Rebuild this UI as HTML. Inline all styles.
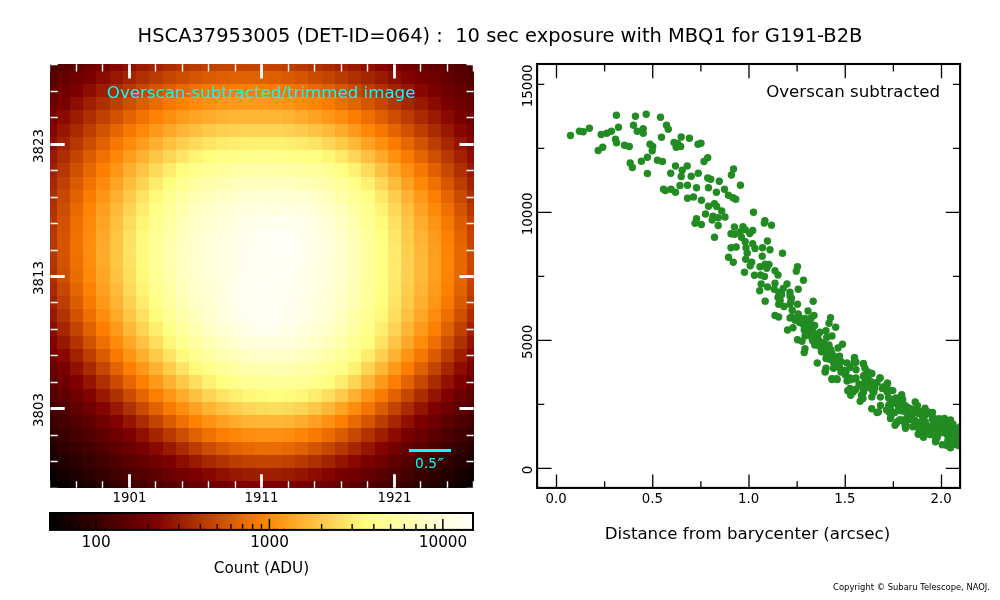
<!DOCTYPE html>
<html><head><meta charset="utf-8"><title>HSCA37953005</title>
<style>html,body{margin:0;padding:0;background:#fff}svg{display:block;will-change:transform}text{font-family:"DejaVu Sans","Liberation Sans",sans-serif;fill:#000}</style></head><body>
<svg width="1000" height="600" viewBox="0 0 1000 600">
<rect width="1000" height="600" fill="#fff"/>
<text x="500" y="42" font-size="19.44" text-anchor="middle" xml:space="preserve">HSCA37953005 (DET-ID=064) :  10 sec exposure with MBQ1 for G191-B2B</text>
<g shape-rendering="crispEdges">
<rect x="50" y="481" width="7" height="7" fill="#000000"/>
<rect x="57" y="481" width="13" height="7" fill="#090000"/>
<rect x="70" y="481" width="13" height="7" fill="#130000"/>
<rect x="83" y="481" width="13" height="7" fill="#1d0000"/>
<rect x="96" y="481" width="14" height="7" fill="#270000"/>
<rect x="110" y="481" width="13" height="7" fill="#320000"/>
<rect x="123" y="481" width="13" height="7" fill="#3c0000"/>
<rect x="136" y="481" width="13" height="7" fill="#450000"/>
<rect x="149" y="481" width="14" height="7" fill="#4f0000"/>
<rect x="163" y="481" width="13" height="7" fill="#570000"/>
<rect x="176" y="481" width="13" height="7" fill="#600000"/>
<rect x="189" y="481" width="13" height="7" fill="#680000"/>
<rect x="202" y="481" width="14" height="7" fill="#6f0000"/>
<rect x="216" y="481" width="13" height="7" fill="#750000"/>
<rect x="229" y="481" width="13" height="7" fill="#7a0000"/>
<rect x="242" y="481" width="13" height="7" fill="#7e0000"/>
<rect x="255" y="481" width="14" height="7" fill="#7f0000"/>
<rect x="269" y="481" width="13" height="7" fill="#7f0000"/>
<rect x="282" y="481" width="13" height="7" fill="#7d0000"/>
<rect x="295" y="481" width="13" height="7" fill="#790000"/>
<rect x="308" y="481" width="14" height="7" fill="#730000"/>
<rect x="322" y="481" width="13" height="7" fill="#6d0000"/>
<rect x="335" y="481" width="13" height="7" fill="#650000"/>
<rect x="348" y="481" width="13" height="7" fill="#5c0000"/>
<rect x="361" y="481" width="14" height="7" fill="#530000"/>
<rect x="375" y="481" width="13" height="7" fill="#4a0000"/>
<rect x="388" y="481" width="13" height="7" fill="#400000"/>
<rect x="401" y="481" width="13" height="7" fill="#360000"/>
<rect x="414" y="481" width="14" height="7" fill="#2b0000"/>
<rect x="428" y="481" width="13" height="7" fill="#210000"/>
<rect x="441" y="481" width="13" height="7" fill="#170000"/>
<rect x="454" y="481" width="13" height="7" fill="#0c0000"/>
<rect x="467" y="481" width="7" height="7" fill="#030000"/>
<rect x="50" y="468" width="7" height="13" fill="#0a0000"/>
<rect x="57" y="468" width="13" height="13" fill="#150000"/>
<rect x="70" y="468" width="13" height="13" fill="#200000"/>
<rect x="83" y="468" width="13" height="13" fill="#2a0000"/>
<rect x="96" y="468" width="14" height="13" fill="#350000"/>
<rect x="110" y="468" width="13" height="13" fill="#400000"/>
<rect x="123" y="468" width="13" height="13" fill="#4a0000"/>
<rect x="136" y="468" width="13" height="13" fill="#550000"/>
<rect x="149" y="468" width="14" height="13" fill="#5f0000"/>
<rect x="163" y="468" width="13" height="13" fill="#6a0000"/>
<rect x="176" y="468" width="13" height="13" fill="#740000"/>
<rect x="189" y="468" width="13" height="13" fill="#7e0000"/>
<rect x="202" y="468" width="14" height="13" fill="#870700"/>
<rect x="216" y="468" width="13" height="13" fill="#901000"/>
<rect x="229" y="468" width="13" height="13" fill="#971700"/>
<rect x="242" y="468" width="13" height="13" fill="#9c1c00"/>
<rect x="255" y="468" width="14" height="13" fill="#9e1f00"/>
<rect x="269" y="468" width="13" height="13" fill="#9e1e00"/>
<rect x="282" y="468" width="13" height="13" fill="#9a1b00"/>
<rect x="295" y="468" width="13" height="13" fill="#951500"/>
<rect x="308" y="468" width="14" height="13" fill="#8d0d00"/>
<rect x="322" y="468" width="13" height="13" fill="#840400"/>
<rect x="335" y="468" width="13" height="13" fill="#7a0000"/>
<rect x="348" y="468" width="13" height="13" fill="#700000"/>
<rect x="361" y="468" width="14" height="13" fill="#660000"/>
<rect x="375" y="468" width="13" height="13" fill="#5b0000"/>
<rect x="388" y="468" width="13" height="13" fill="#500000"/>
<rect x="401" y="468" width="13" height="13" fill="#450000"/>
<rect x="414" y="468" width="14" height="13" fill="#3a0000"/>
<rect x="428" y="468" width="13" height="13" fill="#2f0000"/>
<rect x="441" y="468" width="13" height="13" fill="#240000"/>
<rect x="454" y="468" width="13" height="13" fill="#190000"/>
<rect x="467" y="468" width="7" height="13" fill="#0e0000"/>
<rect x="50" y="455" width="7" height="13" fill="#160000"/>
<rect x="57" y="455" width="13" height="13" fill="#210000"/>
<rect x="70" y="455" width="13" height="13" fill="#2c0000"/>
<rect x="83" y="455" width="13" height="13" fill="#380000"/>
<rect x="96" y="455" width="14" height="13" fill="#430000"/>
<rect x="110" y="455" width="13" height="13" fill="#4e0000"/>
<rect x="123" y="455" width="13" height="13" fill="#5a0000"/>
<rect x="136" y="455" width="13" height="13" fill="#660000"/>
<rect x="149" y="455" width="14" height="13" fill="#720000"/>
<rect x="163" y="455" width="13" height="13" fill="#7f0000"/>
<rect x="176" y="455" width="13" height="13" fill="#8c0c00"/>
<rect x="189" y="455" width="13" height="13" fill="#991a00"/>
<rect x="202" y="455" width="14" height="13" fill="#a72700"/>
<rect x="216" y="455" width="13" height="13" fill="#b23300"/>
<rect x="229" y="455" width="13" height="13" fill="#bb3c00"/>
<rect x="242" y="455" width="13" height="13" fill="#c14200"/>
<rect x="255" y="455" width="14" height="13" fill="#c44500"/>
<rect x="269" y="455" width="13" height="13" fill="#c44400"/>
<rect x="282" y="455" width="13" height="13" fill="#c04000"/>
<rect x="295" y="455" width="13" height="13" fill="#b83900"/>
<rect x="308" y="455" width="14" height="13" fill="#ae2f00"/>
<rect x="322" y="455" width="13" height="13" fill="#a22300"/>
<rect x="335" y="455" width="13" height="13" fill="#951600"/>
<rect x="348" y="455" width="13" height="13" fill="#880800"/>
<rect x="361" y="455" width="14" height="13" fill="#7b0000"/>
<rect x="375" y="455" width="13" height="13" fill="#6e0000"/>
<rect x="388" y="455" width="13" height="13" fill="#610000"/>
<rect x="401" y="455" width="13" height="13" fill="#550000"/>
<rect x="414" y="455" width="14" height="13" fill="#490000"/>
<rect x="428" y="455" width="13" height="13" fill="#3d0000"/>
<rect x="441" y="455" width="13" height="13" fill="#310000"/>
<rect x="454" y="455" width="13" height="13" fill="#260000"/>
<rect x="467" y="455" width="7" height="13" fill="#1b0000"/>
<rect x="50" y="442" width="7" height="13" fill="#220000"/>
<rect x="57" y="442" width="13" height="13" fill="#2e0000"/>
<rect x="70" y="442" width="13" height="13" fill="#3a0000"/>
<rect x="83" y="442" width="13" height="13" fill="#450000"/>
<rect x="96" y="442" width="14" height="13" fill="#510000"/>
<rect x="110" y="442" width="13" height="13" fill="#5e0000"/>
<rect x="123" y="442" width="13" height="13" fill="#6b0000"/>
<rect x="136" y="442" width="13" height="13" fill="#790000"/>
<rect x="149" y="442" width="14" height="13" fill="#880900"/>
<rect x="163" y="442" width="13" height="13" fill="#991900"/>
<rect x="176" y="442" width="13" height="13" fill="#ab2b00"/>
<rect x="189" y="442" width="13" height="13" fill="#bc3c00"/>
<rect x="202" y="442" width="14" height="13" fill="#cb4c00"/>
<rect x="216" y="442" width="13" height="13" fill="#d85900"/>
<rect x="229" y="442" width="13" height="13" fill="#e26300"/>
<rect x="242" y="442" width="13" height="13" fill="#e96900"/>
<rect x="255" y="442" width="14" height="13" fill="#ec6d00"/>
<rect x="269" y="442" width="13" height="13" fill="#eb6c00"/>
<rect x="282" y="442" width="13" height="13" fill="#e76800"/>
<rect x="295" y="442" width="13" height="13" fill="#df6000"/>
<rect x="308" y="442" width="14" height="13" fill="#d45500"/>
<rect x="322" y="442" width="13" height="13" fill="#c64700"/>
<rect x="335" y="442" width="13" height="13" fill="#b63700"/>
<rect x="348" y="442" width="13" height="13" fill="#a52600"/>
<rect x="361" y="442" width="14" height="13" fill="#941500"/>
<rect x="375" y="442" width="13" height="13" fill="#840400"/>
<rect x="388" y="442" width="13" height="13" fill="#750000"/>
<rect x="401" y="442" width="13" height="13" fill="#660000"/>
<rect x="414" y="442" width="14" height="13" fill="#590000"/>
<rect x="428" y="442" width="13" height="13" fill="#4c0000"/>
<rect x="441" y="442" width="13" height="13" fill="#3f0000"/>
<rect x="454" y="442" width="13" height="13" fill="#330000"/>
<rect x="467" y="442" width="7" height="13" fill="#280000"/>
<rect x="50" y="428" width="7" height="14" fill="#2f0000"/>
<rect x="57" y="428" width="13" height="14" fill="#3b0000"/>
<rect x="70" y="428" width="13" height="14" fill="#470000"/>
<rect x="83" y="428" width="13" height="14" fill="#530000"/>
<rect x="96" y="428" width="14" height="14" fill="#600000"/>
<rect x="110" y="428" width="13" height="14" fill="#6f0000"/>
<rect x="123" y="428" width="13" height="14" fill="#7e0000"/>
<rect x="136" y="428" width="13" height="14" fill="#901000"/>
<rect x="149" y="428" width="14" height="14" fill="#a42400"/>
<rect x="163" y="428" width="13" height="14" fill="#b93900"/>
<rect x="176" y="428" width="13" height="14" fill="#cd4e00"/>
<rect x="189" y="428" width="13" height="14" fill="#e06100"/>
<rect x="202" y="428" width="14" height="14" fill="#f07100"/>
<rect x="216" y="428" width="13" height="14" fill="#fd7e00"/>
<rect x="229" y="428" width="13" height="14" fill="#ff8708"/>
<rect x="242" y="428" width="13" height="14" fill="#ff8e0f"/>
<rect x="255" y="428" width="14" height="14" fill="#ff9112"/>
<rect x="269" y="428" width="13" height="14" fill="#ff9112"/>
<rect x="282" y="428" width="13" height="14" fill="#ff8d0e"/>
<rect x="295" y="428" width="13" height="14" fill="#ff8506"/>
<rect x="308" y="428" width="14" height="14" fill="#fa7a00"/>
<rect x="322" y="428" width="13" height="14" fill="#ec6c00"/>
<rect x="335" y="428" width="13" height="14" fill="#da5b00"/>
<rect x="348" y="428" width="13" height="14" fill="#c74800"/>
<rect x="361" y="428" width="14" height="14" fill="#b33300"/>
<rect x="375" y="428" width="13" height="14" fill="#9e1f00"/>
<rect x="388" y="428" width="13" height="14" fill="#8b0b00"/>
<rect x="401" y="428" width="13" height="14" fill="#7a0000"/>
<rect x="414" y="428" width="14" height="14" fill="#6a0000"/>
<rect x="428" y="428" width="13" height="14" fill="#5b0000"/>
<rect x="441" y="428" width="13" height="14" fill="#4e0000"/>
<rect x="454" y="428" width="13" height="14" fill="#410000"/>
<rect x="467" y="428" width="7" height="14" fill="#350000"/>
<rect x="50" y="415" width="7" height="13" fill="#3b0000"/>
<rect x="57" y="415" width="13" height="13" fill="#470000"/>
<rect x="70" y="415" width="13" height="13" fill="#540000"/>
<rect x="83" y="415" width="13" height="13" fill="#620000"/>
<rect x="96" y="415" width="14" height="13" fill="#710000"/>
<rect x="110" y="415" width="13" height="13" fill="#810200"/>
<rect x="123" y="415" width="13" height="13" fill="#951500"/>
<rect x="136" y="415" width="13" height="13" fill="#ab2c00"/>
<rect x="149" y="415" width="14" height="13" fill="#c34300"/>
<rect x="163" y="415" width="13" height="13" fill="#da5a00"/>
<rect x="176" y="415" width="13" height="13" fill="#ef7000"/>
<rect x="189" y="415" width="13" height="13" fill="#ff8203"/>
<rect x="202" y="415" width="14" height="13" fill="#ff9213"/>
<rect x="216" y="415" width="13" height="13" fill="#ffa020"/>
<rect x="229" y="415" width="13" height="13" fill="#ffab2c"/>
<rect x="242" y="415" width="13" height="13" fill="#ffb333"/>
<rect x="255" y="415" width="14" height="13" fill="#ffb737"/>
<rect x="269" y="415" width="13" height="13" fill="#ffb738"/>
<rect x="282" y="415" width="13" height="13" fill="#ffb434"/>
<rect x="295" y="415" width="13" height="13" fill="#ffac2c"/>
<rect x="308" y="415" width="14" height="13" fill="#ffa020"/>
<rect x="322" y="415" width="13" height="13" fill="#ff9011"/>
<rect x="335" y="415" width="13" height="13" fill="#fe7e00"/>
<rect x="348" y="415" width="13" height="13" fill="#ea6a00"/>
<rect x="361" y="415" width="14" height="13" fill="#d45400"/>
<rect x="375" y="415" width="13" height="13" fill="#bc3d00"/>
<rect x="388" y="415" width="13" height="13" fill="#a62600"/>
<rect x="401" y="415" width="13" height="13" fill="#901000"/>
<rect x="414" y="415" width="14" height="13" fill="#7d0000"/>
<rect x="428" y="415" width="13" height="13" fill="#6c0000"/>
<rect x="441" y="415" width="13" height="13" fill="#5d0000"/>
<rect x="454" y="415" width="13" height="13" fill="#4f0000"/>
<rect x="467" y="415" width="7" height="13" fill="#420000"/>
<rect x="50" y="402" width="7" height="13" fill="#470000"/>
<rect x="57" y="402" width="13" height="13" fill="#540000"/>
<rect x="70" y="402" width="13" height="13" fill="#620000"/>
<rect x="83" y="402" width="13" height="13" fill="#710000"/>
<rect x="96" y="402" width="14" height="13" fill="#830300"/>
<rect x="110" y="402" width="13" height="13" fill="#971800"/>
<rect x="123" y="402" width="13" height="13" fill="#af3000"/>
<rect x="136" y="402" width="13" height="13" fill="#c94900"/>
<rect x="149" y="402" width="14" height="13" fill="#e26200"/>
<rect x="163" y="402" width="13" height="13" fill="#f97a00"/>
<rect x="176" y="402" width="13" height="13" fill="#ff8e0f"/>
<rect x="189" y="402" width="13" height="13" fill="#ffa223"/>
<rect x="202" y="402" width="14" height="13" fill="#ffb434"/>
<rect x="216" y="402" width="13" height="13" fill="#ffc243"/>
<rect x="229" y="402" width="13" height="13" fill="#ffce4e"/>
<rect x="242" y="402" width="13" height="13" fill="#ffd657"/>
<rect x="255" y="402" width="14" height="13" fill="#ffdb5c"/>
<rect x="269" y="402" width="13" height="13" fill="#ffdd5d"/>
<rect x="282" y="402" width="13" height="13" fill="#ffda5b"/>
<rect x="295" y="402" width="13" height="13" fill="#ffd354"/>
<rect x="308" y="402" width="14" height="13" fill="#ffc848"/>
<rect x="322" y="402" width="13" height="13" fill="#ffb738"/>
<rect x="335" y="402" width="13" height="13" fill="#ffa323"/>
<rect x="348" y="402" width="13" height="13" fill="#ff8c0c"/>
<rect x="361" y="402" width="14" height="13" fill="#f47500"/>
<rect x="375" y="402" width="13" height="13" fill="#dc5d00"/>
<rect x="388" y="402" width="13" height="13" fill="#c34300"/>
<rect x="401" y="402" width="13" height="13" fill="#aa2b00"/>
<rect x="414" y="402" width="14" height="13" fill="#931300"/>
<rect x="428" y="402" width="13" height="13" fill="#7f0000"/>
<rect x="441" y="402" width="13" height="13" fill="#6d0000"/>
<rect x="454" y="402" width="13" height="13" fill="#5d0000"/>
<rect x="467" y="402" width="7" height="13" fill="#4f0000"/>
<rect x="50" y="389" width="7" height="13" fill="#520000"/>
<rect x="57" y="389" width="13" height="13" fill="#610000"/>
<rect x="70" y="389" width="13" height="13" fill="#700000"/>
<rect x="83" y="389" width="13" height="13" fill="#820300"/>
<rect x="96" y="389" width="14" height="13" fill="#981800"/>
<rect x="110" y="389" width="13" height="13" fill="#b03100"/>
<rect x="123" y="389" width="13" height="13" fill="#cb4b00"/>
<rect x="136" y="389" width="13" height="13" fill="#e56600"/>
<rect x="149" y="389" width="14" height="13" fill="#fe7f00"/>
<rect x="163" y="389" width="13" height="13" fill="#ff9616"/>
<rect x="176" y="389" width="13" height="13" fill="#ffac2d"/>
<rect x="189" y="389" width="13" height="13" fill="#ffc142"/>
<rect x="202" y="389" width="14" height="13" fill="#ffd354"/>
<rect x="216" y="389" width="13" height="13" fill="#ffe363"/>
<rect x="229" y="389" width="13" height="13" fill="#ffef6f"/>
<rect x="242" y="389" width="13" height="13" fill="#fff777"/>
<rect x="255" y="389" width="14" height="13" fill="#fffc7d"/>
<rect x="269" y="389" width="13" height="13" fill="#fffe7e"/>
<rect x="282" y="389" width="13" height="13" fill="#fffc7d"/>
<rect x="295" y="389" width="13" height="13" fill="#fff777"/>
<rect x="308" y="389" width="14" height="13" fill="#ffed6e"/>
<rect x="322" y="389" width="13" height="13" fill="#ffde5e"/>
<rect x="335" y="389" width="13" height="13" fill="#ffc94a"/>
<rect x="348" y="389" width="13" height="13" fill="#ffb031"/>
<rect x="361" y="389" width="14" height="13" fill="#ff9516"/>
<rect x="375" y="389" width="13" height="13" fill="#fb7b00"/>
<rect x="388" y="389" width="13" height="13" fill="#e16100"/>
<rect x="401" y="389" width="13" height="13" fill="#c64700"/>
<rect x="414" y="389" width="14" height="13" fill="#ac2d00"/>
<rect x="428" y="389" width="13" height="13" fill="#931400"/>
<rect x="441" y="389" width="13" height="13" fill="#7e0000"/>
<rect x="454" y="389" width="13" height="13" fill="#6c0000"/>
<rect x="467" y="389" width="7" height="13" fill="#5c0000"/>
<rect x="50" y="375" width="7" height="14" fill="#5e0000"/>
<rect x="57" y="375" width="13" height="14" fill="#6e0000"/>
<rect x="70" y="375" width="13" height="14" fill="#800000"/>
<rect x="83" y="375" width="13" height="14" fill="#951600"/>
<rect x="96" y="375" width="14" height="14" fill="#af2f00"/>
<rect x="110" y="375" width="13" height="14" fill="#ca4a00"/>
<rect x="123" y="375" width="13" height="14" fill="#e66600"/>
<rect x="136" y="375" width="13" height="14" fill="#ff8001"/>
<rect x="149" y="375" width="14" height="14" fill="#ff991a"/>
<rect x="163" y="375" width="13" height="14" fill="#ffb232"/>
<rect x="176" y="375" width="13" height="14" fill="#ffc94a"/>
<rect x="189" y="375" width="13" height="14" fill="#ffde5f"/>
<rect x="202" y="375" width="14" height="14" fill="#fff171"/>
<rect x="216" y="375" width="13" height="14" fill="#ffff80"/>
<rect x="229" y="375" width="13" height="14" fill="#ffff8c"/>
<rect x="242" y="375" width="13" height="14" fill="#ffff93"/>
<rect x="255" y="375" width="14" height="14" fill="#ffff98"/>
<rect x="269" y="375" width="13" height="14" fill="#ffff9a"/>
<rect x="282" y="375" width="13" height="14" fill="#ffff98"/>
<rect x="295" y="375" width="13" height="14" fill="#ffff93"/>
<rect x="308" y="375" width="14" height="14" fill="#ffff8b"/>
<rect x="322" y="375" width="13" height="14" fill="#fffe7f"/>
<rect x="335" y="375" width="13" height="14" fill="#ffec6d"/>
<rect x="348" y="375" width="13" height="14" fill="#ffd454"/>
<rect x="361" y="375" width="14" height="14" fill="#ffb737"/>
<rect x="375" y="375" width="13" height="14" fill="#ff991a"/>
<rect x="388" y="375" width="13" height="14" fill="#fd7e00"/>
<rect x="401" y="375" width="13" height="14" fill="#e26300"/>
<rect x="414" y="375" width="14" height="14" fill="#c64700"/>
<rect x="428" y="375" width="13" height="14" fill="#ab2b00"/>
<rect x="441" y="375" width="13" height="14" fill="#911200"/>
<rect x="454" y="375" width="13" height="14" fill="#7c0000"/>
<rect x="467" y="375" width="7" height="14" fill="#690000"/>
<rect x="50" y="362" width="7" height="13" fill="#6a0000"/>
<rect x="57" y="362" width="13" height="13" fill="#7b0000"/>
<rect x="70" y="362" width="13" height="13" fill="#901100"/>
<rect x="83" y="362" width="13" height="13" fill="#a92a00"/>
<rect x="96" y="362" width="14" height="13" fill="#c54600"/>
<rect x="110" y="362" width="13" height="13" fill="#e26300"/>
<rect x="123" y="362" width="13" height="13" fill="#fd7e00"/>
<rect x="136" y="362" width="13" height="13" fill="#ff9818"/>
<rect x="149" y="362" width="14" height="13" fill="#ffb232"/>
<rect x="163" y="362" width="13" height="13" fill="#ffcc4c"/>
<rect x="176" y="362" width="13" height="13" fill="#ffe364"/>
<rect x="189" y="362" width="13" height="13" fill="#fff979"/>
<rect x="202" y="362" width="14" height="13" fill="#ffff8b"/>
<rect x="216" y="362" width="13" height="13" fill="#ffff99"/>
<rect x="229" y="362" width="13" height="13" fill="#ffffa5"/>
<rect x="242" y="362" width="13" height="13" fill="#ffffad"/>
<rect x="255" y="362" width="14" height="13" fill="#ffffb1"/>
<rect x="269" y="362" width="13" height="13" fill="#ffffb3"/>
<rect x="282" y="362" width="13" height="13" fill="#ffffb1"/>
<rect x="295" y="362" width="13" height="13" fill="#ffffab"/>
<rect x="308" y="362" width="14" height="13" fill="#ffffa2"/>
<rect x="322" y="362" width="13" height="13" fill="#ffff96"/>
<rect x="335" y="362" width="13" height="13" fill="#ffff87"/>
<rect x="348" y="362" width="13" height="13" fill="#fff172"/>
<rect x="361" y="362" width="14" height="13" fill="#ffd556"/>
<rect x="375" y="362" width="13" height="13" fill="#ffb737"/>
<rect x="388" y="362" width="13" height="13" fill="#ff9919"/>
<rect x="401" y="362" width="13" height="13" fill="#fc7d00"/>
<rect x="414" y="362" width="14" height="13" fill="#e06100"/>
<rect x="428" y="362" width="13" height="13" fill="#c34300"/>
<rect x="441" y="362" width="13" height="13" fill="#a62600"/>
<rect x="454" y="362" width="13" height="13" fill="#8c0c00"/>
<rect x="467" y="362" width="7" height="13" fill="#770000"/>
<rect x="50" y="349" width="7" height="13" fill="#750000"/>
<rect x="57" y="349" width="13" height="13" fill="#890900"/>
<rect x="70" y="349" width="13" height="13" fill="#a22200"/>
<rect x="83" y="349" width="13" height="13" fill="#be3e00"/>
<rect x="96" y="349" width="14" height="13" fill="#db5b00"/>
<rect x="110" y="349" width="13" height="13" fill="#f87800"/>
<rect x="123" y="349" width="13" height="13" fill="#ff9314"/>
<rect x="136" y="349" width="13" height="13" fill="#ffae2e"/>
<rect x="149" y="349" width="14" height="13" fill="#ffc949"/>
<rect x="163" y="349" width="13" height="13" fill="#ffe363"/>
<rect x="176" y="349" width="13" height="13" fill="#fffa7b"/>
<rect x="189" y="349" width="13" height="13" fill="#ffff8f"/>
<rect x="202" y="349" width="14" height="13" fill="#ffffa0"/>
<rect x="216" y="349" width="13" height="13" fill="#ffffb0"/>
<rect x="229" y="349" width="13" height="13" fill="#ffffbc"/>
<rect x="242" y="349" width="13" height="13" fill="#ffffc5"/>
<rect x="255" y="349" width="14" height="13" fill="#ffffc9"/>
<rect x="269" y="349" width="13" height="13" fill="#ffffca"/>
<rect x="282" y="349" width="13" height="13" fill="#ffffc8"/>
<rect x="295" y="349" width="13" height="13" fill="#ffffc1"/>
<rect x="308" y="349" width="14" height="13" fill="#ffffb7"/>
<rect x="322" y="349" width="13" height="13" fill="#ffffa9"/>
<rect x="335" y="349" width="13" height="13" fill="#ffff9a"/>
<rect x="348" y="349" width="13" height="13" fill="#ffff87"/>
<rect x="361" y="349" width="14" height="13" fill="#ffed6e"/>
<rect x="375" y="349" width="13" height="13" fill="#ffcf50"/>
<rect x="388" y="349" width="13" height="13" fill="#ffb131"/>
<rect x="401" y="349" width="13" height="13" fill="#ff9414"/>
<rect x="414" y="349" width="14" height="13" fill="#f77800"/>
<rect x="428" y="349" width="13" height="13" fill="#da5a00"/>
<rect x="441" y="349" width="13" height="13" fill="#bb3c00"/>
<rect x="454" y="349" width="13" height="13" fill="#9e1e00"/>
<rect x="467" y="349" width="7" height="13" fill="#840500"/>
<rect x="50" y="336" width="7" height="13" fill="#800100"/>
<rect x="57" y="336" width="13" height="13" fill="#971800"/>
<rect x="70" y="336" width="13" height="13" fill="#b33300"/>
<rect x="83" y="336" width="13" height="13" fill="#d05100"/>
<rect x="96" y="336" width="14" height="13" fill="#ee6f00"/>
<rect x="110" y="336" width="13" height="13" fill="#ff8a0b"/>
<rect x="123" y="336" width="13" height="13" fill="#ffa626"/>
<rect x="136" y="336" width="13" height="13" fill="#ffc242"/>
<rect x="149" y="336" width="14" height="13" fill="#ffdd5d"/>
<rect x="163" y="336" width="13" height="13" fill="#fff677"/>
<rect x="176" y="336" width="13" height="13" fill="#ffff8e"/>
<rect x="189" y="336" width="13" height="13" fill="#ffffa2"/>
<rect x="202" y="336" width="14" height="13" fill="#ffffb4"/>
<rect x="216" y="336" width="13" height="13" fill="#ffffc4"/>
<rect x="229" y="336" width="13" height="13" fill="#ffffd1"/>
<rect x="242" y="336" width="13" height="13" fill="#ffffd9"/>
<rect x="255" y="336" width="14" height="13" fill="#ffffde"/>
<rect x="269" y="336" width="13" height="13" fill="#ffffde"/>
<rect x="282" y="336" width="13" height="13" fill="#ffffdb"/>
<rect x="295" y="336" width="13" height="13" fill="#ffffd3"/>
<rect x="308" y="336" width="14" height="13" fill="#ffffc8"/>
<rect x="322" y="336" width="13" height="13" fill="#ffffba"/>
<rect x="335" y="336" width="13" height="13" fill="#ffffa9"/>
<rect x="348" y="336" width="13" height="13" fill="#ffff96"/>
<rect x="361" y="336" width="14" height="13" fill="#fffe7f"/>
<rect x="375" y="336" width="13" height="13" fill="#ffe262"/>
<rect x="388" y="336" width="13" height="13" fill="#ffc445"/>
<rect x="401" y="336" width="13" height="13" fill="#ffa728"/>
<rect x="414" y="336" width="14" height="13" fill="#ff8b0b"/>
<rect x="428" y="336" width="13" height="13" fill="#ee6e00"/>
<rect x="441" y="336" width="13" height="13" fill="#cf4f00"/>
<rect x="454" y="336" width="13" height="13" fill="#af3000"/>
<rect x="467" y="336" width="7" height="13" fill="#931300"/>
<rect x="50" y="322" width="7" height="14" fill="#8c0c00"/>
<rect x="57" y="322" width="13" height="14" fill="#a62600"/>
<rect x="70" y="322" width="13" height="14" fill="#c34300"/>
<rect x="83" y="322" width="13" height="14" fill="#e16100"/>
<rect x="96" y="322" width="14" height="14" fill="#fe7f00"/>
<rect x="110" y="322" width="13" height="14" fill="#ff9b1b"/>
<rect x="123" y="322" width="13" height="14" fill="#ffb737"/>
<rect x="136" y="322" width="13" height="14" fill="#ffd353"/>
<rect x="149" y="322" width="14" height="14" fill="#ffed6e"/>
<rect x="163" y="322" width="13" height="14" fill="#ffff87"/>
<rect x="176" y="322" width="13" height="14" fill="#ffff9d"/>
<rect x="189" y="322" width="13" height="14" fill="#ffffb2"/>
<rect x="202" y="322" width="14" height="14" fill="#ffffc3"/>
<rect x="216" y="322" width="13" height="14" fill="#ffffd3"/>
<rect x="229" y="322" width="13" height="14" fill="#ffffde"/>
<rect x="242" y="322" width="13" height="14" fill="#ffffe9"/>
<rect x="255" y="322" width="14" height="14" fill="#ffffee"/>
<rect x="269" y="322" width="13" height="14" fill="#ffffed"/>
<rect x="282" y="322" width="13" height="14" fill="#ffffe6"/>
<rect x="295" y="322" width="13" height="14" fill="#ffffe0"/>
<rect x="308" y="322" width="14" height="14" fill="#ffffd5"/>
<rect x="322" y="322" width="13" height="14" fill="#ffffc8"/>
<rect x="335" y="322" width="13" height="14" fill="#ffffb6"/>
<rect x="348" y="322" width="13" height="14" fill="#ffffa2"/>
<rect x="361" y="322" width="14" height="14" fill="#ffff8a"/>
<rect x="375" y="322" width="13" height="14" fill="#ffef70"/>
<rect x="388" y="322" width="13" height="14" fill="#ffd353"/>
<rect x="401" y="322" width="13" height="14" fill="#ffb637"/>
<rect x="414" y="322" width="14" height="14" fill="#ff9a1b"/>
<rect x="428" y="322" width="13" height="14" fill="#fe7f00"/>
<rect x="441" y="322" width="13" height="14" fill="#e06100"/>
<rect x="454" y="322" width="13" height="14" fill="#c04000"/>
<rect x="467" y="322" width="7" height="14" fill="#a12100"/>
<rect x="50" y="309" width="7" height="13" fill="#971700"/>
<rect x="57" y="309" width="13" height="13" fill="#b23300"/>
<rect x="70" y="309" width="13" height="13" fill="#d15100"/>
<rect x="83" y="309" width="13" height="13" fill="#ef6f00"/>
<rect x="96" y="309" width="14" height="13" fill="#ff8c0c"/>
<rect x="110" y="309" width="13" height="13" fill="#ffa929"/>
<rect x="123" y="309" width="13" height="13" fill="#ffc545"/>
<rect x="136" y="309" width="13" height="13" fill="#ffe061"/>
<rect x="149" y="309" width="14" height="13" fill="#fffb7b"/>
<rect x="163" y="309" width="13" height="13" fill="#ffff94"/>
<rect x="176" y="309" width="13" height="13" fill="#ffffaa"/>
<rect x="189" y="309" width="13" height="13" fill="#ffffbd"/>
<rect x="202" y="309" width="14" height="13" fill="#ffffce"/>
<rect x="216" y="309" width="13" height="13" fill="#ffffdc"/>
<rect x="229" y="309" width="13" height="13" fill="#ffffe8"/>
<rect x="242" y="309" width="13" height="13" fill="#fffff0"/>
<rect x="255" y="309" width="14" height="13" fill="#fffff4"/>
<rect x="269" y="309" width="13" height="13" fill="#fffff3"/>
<rect x="282" y="309" width="13" height="13" fill="#ffffee"/>
<rect x="295" y="309" width="13" height="13" fill="#ffffe7"/>
<rect x="308" y="309" width="14" height="13" fill="#ffffde"/>
<rect x="322" y="309" width="13" height="13" fill="#ffffd1"/>
<rect x="335" y="309" width="13" height="13" fill="#ffffc0"/>
<rect x="348" y="309" width="13" height="13" fill="#ffffaa"/>
<rect x="361" y="309" width="14" height="13" fill="#ffff93"/>
<rect x="375" y="309" width="13" height="13" fill="#fff878"/>
<rect x="388" y="309" width="13" height="13" fill="#ffdd5d"/>
<rect x="401" y="309" width="13" height="13" fill="#ffc142"/>
<rect x="414" y="309" width="14" height="13" fill="#ffa727"/>
<rect x="428" y="309" width="13" height="13" fill="#ff8b0c"/>
<rect x="441" y="309" width="13" height="13" fill="#ee6f00"/>
<rect x="454" y="309" width="13" height="13" fill="#ce4f00"/>
<rect x="467" y="309" width="7" height="13" fill="#ae2e00"/>
<rect x="50" y="296" width="7" height="13" fill="#a12100"/>
<rect x="57" y="296" width="13" height="13" fill="#be3e00"/>
<rect x="70" y="296" width="13" height="13" fill="#dc5d00"/>
<rect x="83" y="296" width="13" height="13" fill="#fa7a00"/>
<rect x="96" y="296" width="14" height="13" fill="#ff9717"/>
<rect x="110" y="296" width="13" height="13" fill="#ffb334"/>
<rect x="123" y="296" width="13" height="13" fill="#ffd050"/>
<rect x="136" y="296" width="13" height="13" fill="#ffeb6c"/>
<rect x="149" y="296" width="14" height="13" fill="#ffff86"/>
<rect x="163" y="296" width="13" height="13" fill="#ffff9e"/>
<rect x="176" y="296" width="13" height="13" fill="#ffffb3"/>
<rect x="189" y="296" width="13" height="13" fill="#ffffc5"/>
<rect x="202" y="296" width="14" height="13" fill="#ffffd2"/>
<rect x="216" y="296" width="13" height="13" fill="#ffffdf"/>
<rect x="229" y="296" width="13" height="13" fill="#ffffeb"/>
<rect x="242" y="296" width="13" height="13" fill="#fffff2"/>
<rect x="255" y="296" width="14" height="13" fill="#fffff4"/>
<rect x="269" y="296" width="13" height="13" fill="#fffff3"/>
<rect x="282" y="296" width="13" height="13" fill="#ffffef"/>
<rect x="295" y="296" width="13" height="13" fill="#ffffe9"/>
<rect x="308" y="296" width="14" height="13" fill="#ffffe0"/>
<rect x="322" y="296" width="13" height="13" fill="#ffffd6"/>
<rect x="335" y="296" width="13" height="13" fill="#ffffc5"/>
<rect x="348" y="296" width="13" height="13" fill="#ffffb1"/>
<rect x="361" y="296" width="14" height="13" fill="#ffff98"/>
<rect x="375" y="296" width="13" height="13" fill="#fffe7e"/>
<rect x="388" y="296" width="13" height="13" fill="#ffe364"/>
<rect x="401" y="296" width="13" height="13" fill="#ffc94a"/>
<rect x="414" y="296" width="14" height="13" fill="#ffaf30"/>
<rect x="428" y="296" width="13" height="13" fill="#ff9515"/>
<rect x="441" y="296" width="13" height="13" fill="#f97900"/>
<rect x="454" y="296" width="13" height="13" fill="#d95a00"/>
<rect x="467" y="296" width="7" height="13" fill="#b83900"/>
<rect x="50" y="283" width="7" height="13" fill="#a92a00"/>
<rect x="57" y="283" width="13" height="13" fill="#c74700"/>
<rect x="70" y="283" width="13" height="13" fill="#e56600"/>
<rect x="83" y="283" width="13" height="13" fill="#ff8303"/>
<rect x="96" y="283" width="14" height="13" fill="#ff9f20"/>
<rect x="110" y="283" width="13" height="13" fill="#ffbc3c"/>
<rect x="123" y="283" width="13" height="13" fill="#ffd859"/>
<rect x="136" y="283" width="13" height="13" fill="#fff374"/>
<rect x="149" y="283" width="14" height="13" fill="#ffff8e"/>
<rect x="163" y="283" width="13" height="13" fill="#ffffa6"/>
<rect x="176" y="283" width="13" height="13" fill="#ffffbb"/>
<rect x="189" y="283" width="13" height="13" fill="#ffffcb"/>
<rect x="202" y="283" width="14" height="13" fill="#ffffd6"/>
<rect x="216" y="283" width="13" height="13" fill="#ffffe2"/>
<rect x="229" y="283" width="13" height="13" fill="#ffffeb"/>
<rect x="242" y="283" width="13" height="13" fill="#fffff0"/>
<rect x="255" y="283" width="14" height="13" fill="#fffff3"/>
<rect x="269" y="283" width="13" height="13" fill="#fffff3"/>
<rect x="282" y="283" width="13" height="13" fill="#fffff0"/>
<rect x="295" y="283" width="13" height="13" fill="#ffffeb"/>
<rect x="308" y="283" width="14" height="13" fill="#ffffe3"/>
<rect x="322" y="283" width="13" height="13" fill="#ffffd7"/>
<rect x="335" y="283" width="13" height="13" fill="#ffffc8"/>
<rect x="348" y="283" width="13" height="13" fill="#ffffb4"/>
<rect x="361" y="283" width="14" height="13" fill="#ffff9c"/>
<rect x="375" y="283" width="13" height="13" fill="#ffff82"/>
<rect x="388" y="283" width="13" height="13" fill="#ffe768"/>
<rect x="401" y="283" width="13" height="13" fill="#ffce4e"/>
<rect x="414" y="283" width="14" height="13" fill="#ffb535"/>
<rect x="428" y="283" width="13" height="13" fill="#ff9b1b"/>
<rect x="441" y="283" width="13" height="13" fill="#ff8001"/>
<rect x="454" y="283" width="13" height="13" fill="#e16200"/>
<rect x="467" y="283" width="7" height="13" fill="#c04100"/>
<rect x="50" y="269" width="7" height="14" fill="#b03000"/>
<rect x="57" y="269" width="13" height="14" fill="#cd4e00"/>
<rect x="70" y="269" width="13" height="14" fill="#eb6c00"/>
<rect x="83" y="269" width="13" height="14" fill="#ff8909"/>
<rect x="96" y="269" width="14" height="14" fill="#ffa526"/>
<rect x="110" y="269" width="13" height="14" fill="#ffc242"/>
<rect x="123" y="269" width="13" height="14" fill="#ffde5e"/>
<rect x="136" y="269" width="13" height="14" fill="#fff97a"/>
<rect x="149" y="269" width="14" height="14" fill="#ffff94"/>
<rect x="163" y="269" width="13" height="14" fill="#ffffab"/>
<rect x="176" y="269" width="13" height="14" fill="#ffffc0"/>
<rect x="189" y="269" width="13" height="14" fill="#ffffce"/>
<rect x="202" y="269" width="14" height="14" fill="#ffffd7"/>
<rect x="216" y="269" width="13" height="14" fill="#ffffe2"/>
<rect x="229" y="269" width="13" height="14" fill="#ffffea"/>
<rect x="242" y="269" width="13" height="14" fill="#ffffef"/>
<rect x="255" y="269" width="14" height="14" fill="#fffff2"/>
<rect x="269" y="269" width="13" height="14" fill="#fffff3"/>
<rect x="282" y="269" width="13" height="14" fill="#fffff1"/>
<rect x="295" y="269" width="13" height="14" fill="#ffffec"/>
<rect x="308" y="269" width="14" height="14" fill="#ffffe4"/>
<rect x="322" y="269" width="13" height="14" fill="#ffffd9"/>
<rect x="335" y="269" width="13" height="14" fill="#ffffcb"/>
<rect x="348" y="269" width="13" height="14" fill="#ffffb7"/>
<rect x="361" y="269" width="14" height="14" fill="#ffff9e"/>
<rect x="375" y="269" width="13" height="14" fill="#ffff84"/>
<rect x="388" y="269" width="13" height="14" fill="#ffe96a"/>
<rect x="401" y="269" width="13" height="14" fill="#ffd051"/>
<rect x="414" y="269" width="14" height="14" fill="#ffb838"/>
<rect x="428" y="269" width="13" height="14" fill="#ff9e1f"/>
<rect x="441" y="269" width="13" height="14" fill="#ff8405"/>
<rect x="454" y="269" width="13" height="14" fill="#e66700"/>
<rect x="467" y="269" width="7" height="14" fill="#c64600"/>
<rect x="50" y="256" width="7" height="13" fill="#b43500"/>
<rect x="57" y="256" width="13" height="13" fill="#d25200"/>
<rect x="70" y="256" width="13" height="13" fill="#ef7000"/>
<rect x="83" y="256" width="13" height="13" fill="#ff8c0d"/>
<rect x="96" y="256" width="14" height="13" fill="#ffa929"/>
<rect x="110" y="256" width="13" height="13" fill="#ffc545"/>
<rect x="123" y="256" width="13" height="13" fill="#ffe161"/>
<rect x="136" y="256" width="13" height="13" fill="#fffc7d"/>
<rect x="149" y="256" width="14" height="13" fill="#ffff96"/>
<rect x="163" y="256" width="13" height="13" fill="#ffffae"/>
<rect x="176" y="256" width="13" height="13" fill="#ffffc2"/>
<rect x="189" y="256" width="13" height="13" fill="#ffffcf"/>
<rect x="202" y="256" width="14" height="13" fill="#ffffd9"/>
<rect x="216" y="256" width="13" height="13" fill="#ffffe2"/>
<rect x="229" y="256" width="13" height="13" fill="#ffffe9"/>
<rect x="242" y="256" width="13" height="13" fill="#ffffef"/>
<rect x="255" y="256" width="14" height="13" fill="#fffff3"/>
<rect x="269" y="256" width="13" height="13" fill="#fffff5"/>
<rect x="282" y="256" width="13" height="13" fill="#fffff4"/>
<rect x="295" y="256" width="13" height="13" fill="#ffffef"/>
<rect x="308" y="256" width="14" height="13" fill="#ffffe6"/>
<rect x="322" y="256" width="13" height="13" fill="#ffffdc"/>
<rect x="335" y="256" width="13" height="13" fill="#ffffcc"/>
<rect x="348" y="256" width="13" height="13" fill="#ffffb8"/>
<rect x="361" y="256" width="14" height="13" fill="#ffff9f"/>
<rect x="375" y="256" width="13" height="13" fill="#ffff84"/>
<rect x="388" y="256" width="13" height="13" fill="#ffea6a"/>
<rect x="401" y="256" width="13" height="13" fill="#ffd152"/>
<rect x="414" y="256" width="14" height="13" fill="#ffb839"/>
<rect x="428" y="256" width="13" height="13" fill="#ff9f20"/>
<rect x="441" y="256" width="13" height="13" fill="#ff8506"/>
<rect x="454" y="256" width="13" height="13" fill="#e86800"/>
<rect x="467" y="256" width="7" height="13" fill="#c84800"/>
<rect x="50" y="243" width="7" height="13" fill="#b73700"/>
<rect x="57" y="243" width="13" height="13" fill="#d45400"/>
<rect x="70" y="243" width="13" height="13" fill="#f17200"/>
<rect x="83" y="243" width="13" height="13" fill="#ff8e0e"/>
<rect x="96" y="243" width="14" height="13" fill="#ffaa2a"/>
<rect x="110" y="243" width="13" height="13" fill="#ffc646"/>
<rect x="123" y="243" width="13" height="13" fill="#ffe262"/>
<rect x="136" y="243" width="13" height="13" fill="#fffc7d"/>
<rect x="149" y="243" width="14" height="13" fill="#ffff96"/>
<rect x="163" y="243" width="13" height="13" fill="#ffffae"/>
<rect x="176" y="243" width="13" height="13" fill="#ffffc1"/>
<rect x="189" y="243" width="13" height="13" fill="#ffffce"/>
<rect x="202" y="243" width="14" height="13" fill="#ffffda"/>
<rect x="216" y="243" width="13" height="13" fill="#ffffe1"/>
<rect x="229" y="243" width="13" height="13" fill="#ffffe8"/>
<rect x="242" y="243" width="13" height="13" fill="#ffffef"/>
<rect x="255" y="243" width="14" height="13" fill="#fffff4"/>
<rect x="269" y="243" width="13" height="13" fill="#fffff7"/>
<rect x="282" y="243" width="13" height="13" fill="#fffff7"/>
<rect x="295" y="243" width="13" height="13" fill="#fffff1"/>
<rect x="308" y="243" width="14" height="13" fill="#ffffe7"/>
<rect x="322" y="243" width="13" height="13" fill="#ffffde"/>
<rect x="335" y="243" width="13" height="13" fill="#ffffcd"/>
<rect x="348" y="243" width="13" height="13" fill="#ffffb7"/>
<rect x="361" y="243" width="14" height="13" fill="#ffff9f"/>
<rect x="375" y="243" width="13" height="13" fill="#ffff84"/>
<rect x="388" y="243" width="13" height="13" fill="#ffe96a"/>
<rect x="401" y="243" width="13" height="13" fill="#ffd050"/>
<rect x="414" y="243" width="14" height="13" fill="#ffb738"/>
<rect x="428" y="243" width="13" height="13" fill="#ff9e1e"/>
<rect x="441" y="243" width="13" height="13" fill="#ff8404"/>
<rect x="454" y="243" width="13" height="13" fill="#e76700"/>
<rect x="467" y="243" width="7" height="13" fill="#c74800"/>
<rect x="50" y="230" width="7" height="13" fill="#b73800"/>
<rect x="57" y="230" width="13" height="13" fill="#d45400"/>
<rect x="70" y="230" width="13" height="13" fill="#f07100"/>
<rect x="83" y="230" width="13" height="13" fill="#ff8c0d"/>
<rect x="96" y="230" width="14" height="13" fill="#ffa829"/>
<rect x="110" y="230" width="13" height="13" fill="#ffc444"/>
<rect x="123" y="230" width="13" height="13" fill="#ffe060"/>
<rect x="136" y="230" width="13" height="13" fill="#fffa7b"/>
<rect x="149" y="230" width="14" height="13" fill="#ffff93"/>
<rect x="163" y="230" width="13" height="13" fill="#ffffaa"/>
<rect x="176" y="230" width="13" height="13" fill="#ffffbd"/>
<rect x="189" y="230" width="13" height="13" fill="#ffffcb"/>
<rect x="202" y="230" width="14" height="13" fill="#ffffd9"/>
<rect x="216" y="230" width="13" height="13" fill="#ffffe0"/>
<rect x="229" y="230" width="13" height="13" fill="#ffffe7"/>
<rect x="242" y="230" width="13" height="13" fill="#ffffee"/>
<rect x="255" y="230" width="14" height="13" fill="#fffff3"/>
<rect x="269" y="230" width="13" height="13" fill="#fffff7"/>
<rect x="282" y="230" width="13" height="13" fill="#fffff6"/>
<rect x="295" y="230" width="13" height="13" fill="#fffff0"/>
<rect x="308" y="230" width="14" height="13" fill="#ffffe6"/>
<rect x="322" y="230" width="13" height="13" fill="#ffffdb"/>
<rect x="335" y="230" width="13" height="13" fill="#ffffca"/>
<rect x="348" y="230" width="13" height="13" fill="#ffffb5"/>
<rect x="361" y="230" width="14" height="13" fill="#ffff9c"/>
<rect x="375" y="230" width="13" height="13" fill="#ffff81"/>
<rect x="388" y="230" width="13" height="13" fill="#ffe667"/>
<rect x="401" y="230" width="13" height="13" fill="#ffcc4d"/>
<rect x="414" y="230" width="14" height="13" fill="#ffb334"/>
<rect x="428" y="230" width="13" height="13" fill="#ff9a1a"/>
<rect x="441" y="230" width="13" height="13" fill="#ff8000"/>
<rect x="454" y="230" width="13" height="13" fill="#e36300"/>
<rect x="467" y="230" width="7" height="13" fill="#c44400"/>
<rect x="50" y="216" width="7" height="14" fill="#b63600"/>
<rect x="57" y="216" width="13" height="14" fill="#d25200"/>
<rect x="70" y="216" width="13" height="14" fill="#ee6e00"/>
<rect x="83" y="216" width="13" height="14" fill="#ff890a"/>
<rect x="96" y="216" width="14" height="14" fill="#ffa425"/>
<rect x="110" y="216" width="13" height="14" fill="#ffc041"/>
<rect x="123" y="216" width="13" height="14" fill="#ffdb5b"/>
<rect x="136" y="216" width="13" height="14" fill="#fff575"/>
<rect x="149" y="216" width="14" height="14" fill="#ffff8e"/>
<rect x="163" y="216" width="13" height="14" fill="#ffffa4"/>
<rect x="176" y="216" width="13" height="14" fill="#ffffb7"/>
<rect x="189" y="216" width="13" height="14" fill="#ffffc6"/>
<rect x="202" y="216" width="14" height="14" fill="#ffffd3"/>
<rect x="216" y="216" width="13" height="14" fill="#ffffda"/>
<rect x="229" y="216" width="13" height="14" fill="#ffffe2"/>
<rect x="242" y="216" width="13" height="14" fill="#ffffe9"/>
<rect x="255" y="216" width="14" height="14" fill="#ffffee"/>
<rect x="269" y="216" width="13" height="14" fill="#fffff0"/>
<rect x="282" y="216" width="13" height="14" fill="#fffff0"/>
<rect x="295" y="216" width="13" height="14" fill="#ffffeb"/>
<rect x="308" y="216" width="14" height="14" fill="#ffffe2"/>
<rect x="322" y="216" width="13" height="14" fill="#ffffd5"/>
<rect x="335" y="216" width="13" height="14" fill="#ffffc4"/>
<rect x="348" y="216" width="13" height="14" fill="#ffffae"/>
<rect x="361" y="216" width="14" height="14" fill="#ffff96"/>
<rect x="375" y="216" width="13" height="14" fill="#fffc7c"/>
<rect x="388" y="216" width="13" height="14" fill="#ffe161"/>
<rect x="401" y="216" width="13" height="14" fill="#ffc747"/>
<rect x="414" y="216" width="14" height="14" fill="#ffad2d"/>
<rect x="428" y="216" width="13" height="14" fill="#ff9313"/>
<rect x="441" y="216" width="13" height="14" fill="#f87900"/>
<rect x="454" y="216" width="13" height="14" fill="#dc5d00"/>
<rect x="467" y="216" width="7" height="14" fill="#be3f00"/>
<rect x="50" y="203" width="7" height="13" fill="#b23300"/>
<rect x="57" y="203" width="13" height="13" fill="#cd4e00"/>
<rect x="70" y="203" width="13" height="13" fill="#e96900"/>
<rect x="83" y="203" width="13" height="13" fill="#ff8404"/>
<rect x="96" y="203" width="14" height="13" fill="#ff9e1f"/>
<rect x="110" y="203" width="13" height="13" fill="#ffb93a"/>
<rect x="123" y="203" width="13" height="13" fill="#ffd354"/>
<rect x="136" y="203" width="13" height="13" fill="#ffed6d"/>
<rect x="149" y="203" width="14" height="13" fill="#ffff85"/>
<rect x="163" y="203" width="13" height="13" fill="#ffff9b"/>
<rect x="176" y="203" width="13" height="13" fill="#ffffae"/>
<rect x="189" y="203" width="13" height="13" fill="#ffffbf"/>
<rect x="202" y="203" width="14" height="13" fill="#ffffca"/>
<rect x="216" y="203" width="13" height="13" fill="#ffffd4"/>
<rect x="229" y="203" width="13" height="13" fill="#ffffdb"/>
<rect x="242" y="203" width="13" height="13" fill="#ffffe0"/>
<rect x="255" y="203" width="14" height="13" fill="#ffffe1"/>
<rect x="269" y="203" width="13" height="13" fill="#ffffde"/>
<rect x="282" y="203" width="13" height="13" fill="#ffffe3"/>
<rect x="295" y="203" width="13" height="13" fill="#ffffe0"/>
<rect x="308" y="203" width="14" height="13" fill="#ffffd7"/>
<rect x="322" y="203" width="13" height="13" fill="#ffffca"/>
<rect x="335" y="203" width="13" height="13" fill="#ffffb9"/>
<rect x="348" y="203" width="13" height="13" fill="#ffffa4"/>
<rect x="361" y="203" width="14" height="13" fill="#ffff8d"/>
<rect x="375" y="203" width="13" height="13" fill="#fff374"/>
<rect x="388" y="203" width="13" height="13" fill="#ffd859"/>
<rect x="401" y="203" width="13" height="13" fill="#ffbe3e"/>
<rect x="414" y="203" width="14" height="13" fill="#ffa324"/>
<rect x="428" y="203" width="13" height="13" fill="#ff8a0a"/>
<rect x="441" y="203" width="13" height="13" fill="#ef7000"/>
<rect x="454" y="203" width="13" height="13" fill="#d35400"/>
<rect x="467" y="203" width="7" height="13" fill="#b73700"/>
<rect x="50" y="190" width="7" height="13" fill="#ae2e00"/>
<rect x="57" y="190" width="13" height="13" fill="#c84800"/>
<rect x="70" y="190" width="13" height="13" fill="#e26200"/>
<rect x="83" y="190" width="13" height="13" fill="#fc7c00"/>
<rect x="96" y="190" width="14" height="13" fill="#ff9616"/>
<rect x="110" y="190" width="13" height="13" fill="#ffb030"/>
<rect x="123" y="190" width="13" height="13" fill="#ffc94a"/>
<rect x="136" y="190" width="13" height="13" fill="#ffe263"/>
<rect x="149" y="190" width="14" height="13" fill="#fff97a"/>
<rect x="163" y="190" width="13" height="13" fill="#ffff8f"/>
<rect x="176" y="190" width="13" height="13" fill="#ffffa1"/>
<rect x="189" y="190" width="13" height="13" fill="#ffffb1"/>
<rect x="202" y="190" width="14" height="13" fill="#ffffbd"/>
<rect x="216" y="190" width="13" height="13" fill="#ffffc7"/>
<rect x="229" y="190" width="13" height="13" fill="#ffffcd"/>
<rect x="242" y="190" width="13" height="13" fill="#ffffd2"/>
<rect x="255" y="190" width="14" height="13" fill="#ffffd4"/>
<rect x="269" y="190" width="13" height="13" fill="#ffffd5"/>
<rect x="282" y="190" width="13" height="13" fill="#ffffd4"/>
<rect x="295" y="190" width="13" height="13" fill="#ffffcf"/>
<rect x="308" y="190" width="14" height="13" fill="#ffffc7"/>
<rect x="322" y="190" width="13" height="13" fill="#ffffbb"/>
<rect x="335" y="190" width="13" height="13" fill="#ffffaa"/>
<rect x="348" y="190" width="13" height="13" fill="#ffff97"/>
<rect x="361" y="190" width="14" height="13" fill="#ffff81"/>
<rect x="375" y="190" width="13" height="13" fill="#ffe768"/>
<rect x="388" y="190" width="13" height="13" fill="#ffcc4d"/>
<rect x="401" y="190" width="13" height="13" fill="#ffb132"/>
<rect x="414" y="190" width="14" height="13" fill="#ff9718"/>
<rect x="428" y="190" width="13" height="13" fill="#fd7e00"/>
<rect x="441" y="190" width="13" height="13" fill="#e46400"/>
<rect x="454" y="190" width="13" height="13" fill="#c84900"/>
<rect x="467" y="190" width="7" height="13" fill="#ad2e00"/>
<rect x="50" y="177" width="7" height="13" fill="#a72800"/>
<rect x="57" y="177" width="13" height="13" fill="#c04000"/>
<rect x="70" y="177" width="13" height="13" fill="#d95a00"/>
<rect x="83" y="177" width="13" height="13" fill="#f27300"/>
<rect x="96" y="177" width="14" height="13" fill="#ff8b0c"/>
<rect x="110" y="177" width="13" height="13" fill="#ffa424"/>
<rect x="123" y="177" width="13" height="13" fill="#ffbd3d"/>
<rect x="136" y="177" width="13" height="13" fill="#ffd455"/>
<rect x="149" y="177" width="14" height="13" fill="#ffeb6b"/>
<rect x="163" y="177" width="13" height="13" fill="#ffff7f"/>
<rect x="176" y="177" width="13" height="13" fill="#ffff91"/>
<rect x="189" y="177" width="13" height="13" fill="#ffff9f"/>
<rect x="202" y="177" width="14" height="13" fill="#ffffab"/>
<rect x="216" y="177" width="13" height="13" fill="#ffffb4"/>
<rect x="229" y="177" width="13" height="13" fill="#ffffbb"/>
<rect x="242" y="177" width="13" height="13" fill="#ffffbe"/>
<rect x="255" y="177" width="14" height="13" fill="#ffffc0"/>
<rect x="269" y="177" width="13" height="13" fill="#ffffc1"/>
<rect x="282" y="177" width="13" height="13" fill="#ffffbf"/>
<rect x="295" y="177" width="13" height="13" fill="#ffffba"/>
<rect x="308" y="177" width="14" height="13" fill="#ffffb2"/>
<rect x="322" y="177" width="13" height="13" fill="#ffffa7"/>
<rect x="335" y="177" width="13" height="13" fill="#ffff99"/>
<rect x="348" y="177" width="13" height="13" fill="#ffff87"/>
<rect x="361" y="177" width="14" height="13" fill="#fff071"/>
<rect x="375" y="177" width="13" height="13" fill="#ffd757"/>
<rect x="388" y="177" width="13" height="13" fill="#ffbc3c"/>
<rect x="401" y="177" width="13" height="13" fill="#ffa122"/>
<rect x="414" y="177" width="14" height="13" fill="#ff8809"/>
<rect x="428" y="177" width="13" height="13" fill="#f07000"/>
<rect x="441" y="177" width="13" height="13" fill="#d65700"/>
<rect x="454" y="177" width="13" height="13" fill="#bc3d00"/>
<rect x="467" y="177" width="7" height="13" fill="#a32300"/>
<rect x="50" y="163" width="7" height="14" fill="#9f2000"/>
<rect x="57" y="163" width="13" height="14" fill="#b73700"/>
<rect x="70" y="163" width="13" height="14" fill="#cf5000"/>
<rect x="83" y="163" width="13" height="14" fill="#e76800"/>
<rect x="96" y="163" width="14" height="14" fill="#ff7f00"/>
<rect x="110" y="163" width="13" height="14" fill="#ff9617"/>
<rect x="123" y="163" width="13" height="14" fill="#ffae2e"/>
<rect x="136" y="163" width="13" height="14" fill="#ffc445"/>
<rect x="149" y="163" width="14" height="14" fill="#ffd95a"/>
<rect x="163" y="163" width="13" height="14" fill="#ffec6d"/>
<rect x="176" y="163" width="13" height="14" fill="#fffd7d"/>
<rect x="189" y="163" width="13" height="14" fill="#ffff8b"/>
<rect x="202" y="163" width="14" height="14" fill="#ffff96"/>
<rect x="216" y="163" width="13" height="14" fill="#ffff9e"/>
<rect x="229" y="163" width="13" height="14" fill="#ffffa3"/>
<rect x="242" y="163" width="13" height="14" fill="#ffffa7"/>
<rect x="255" y="163" width="14" height="14" fill="#ffffa8"/>
<rect x="269" y="163" width="13" height="14" fill="#ffffa8"/>
<rect x="282" y="163" width="13" height="14" fill="#ffffa6"/>
<rect x="295" y="163" width="13" height="14" fill="#ffffa2"/>
<rect x="308" y="163" width="14" height="14" fill="#ffff9b"/>
<rect x="322" y="163" width="13" height="14" fill="#ffff91"/>
<rect x="335" y="163" width="13" height="14" fill="#ffff84"/>
<rect x="348" y="163" width="13" height="14" fill="#fff172"/>
<rect x="361" y="163" width="14" height="14" fill="#ffdb5b"/>
<rect x="375" y="163" width="13" height="14" fill="#ffc142"/>
<rect x="388" y="163" width="13" height="14" fill="#ffa728"/>
<rect x="401" y="163" width="13" height="14" fill="#ff8f0f"/>
<rect x="414" y="163" width="14" height="14" fill="#f77800"/>
<rect x="428" y="163" width="13" height="14" fill="#e06000"/>
<rect x="441" y="163" width="13" height="14" fill="#c74800"/>
<rect x="454" y="163" width="13" height="14" fill="#af2f00"/>
<rect x="467" y="163" width="7" height="14" fill="#981800"/>
<rect x="50" y="150" width="7" height="13" fill="#971700"/>
<rect x="57" y="150" width="13" height="13" fill="#ad2d00"/>
<rect x="70" y="150" width="13" height="13" fill="#c44400"/>
<rect x="83" y="150" width="13" height="13" fill="#da5b00"/>
<rect x="96" y="150" width="14" height="13" fill="#f17100"/>
<rect x="110" y="150" width="13" height="13" fill="#ff8707"/>
<rect x="123" y="150" width="13" height="13" fill="#ff9c1d"/>
<rect x="136" y="150" width="13" height="13" fill="#ffb232"/>
<rect x="149" y="150" width="14" height="13" fill="#ffc546"/>
<rect x="163" y="150" width="13" height="13" fill="#ffd757"/>
<rect x="176" y="150" width="13" height="13" fill="#ffe667"/>
<rect x="189" y="150" width="13" height="13" fill="#fff374"/>
<rect x="202" y="150" width="14" height="13" fill="#fffd7d"/>
<rect x="216" y="150" width="13" height="13" fill="#ffff85"/>
<rect x="229" y="150" width="13" height="13" fill="#ffff89"/>
<rect x="242" y="150" width="13" height="13" fill="#ffff8c"/>
<rect x="255" y="150" width="14" height="13" fill="#ffff8d"/>
<rect x="269" y="150" width="13" height="13" fill="#ffff8d"/>
<rect x="282" y="150" width="13" height="13" fill="#ffff8c"/>
<rect x="295" y="150" width="13" height="13" fill="#ffff88"/>
<rect x="308" y="150" width="14" height="13" fill="#ffff81"/>
<rect x="322" y="150" width="13" height="13" fill="#fff777"/>
<rect x="335" y="150" width="13" height="13" fill="#ffe969"/>
<rect x="348" y="150" width="13" height="13" fill="#ffd657"/>
<rect x="361" y="150" width="14" height="13" fill="#ffc041"/>
<rect x="375" y="150" width="13" height="13" fill="#ffa829"/>
<rect x="388" y="150" width="13" height="13" fill="#ff9111"/>
<rect x="401" y="150" width="13" height="13" fill="#fb7b00"/>
<rect x="414" y="150" width="14" height="13" fill="#e56500"/>
<rect x="428" y="150" width="13" height="13" fill="#ce4f00"/>
<rect x="441" y="150" width="13" height="13" fill="#b73800"/>
<rect x="454" y="150" width="13" height="13" fill="#a12200"/>
<rect x="467" y="150" width="7" height="13" fill="#8d0d00"/>
<rect x="50" y="137" width="7" height="13" fill="#8d0e00"/>
<rect x="57" y="137" width="13" height="13" fill="#a22200"/>
<rect x="70" y="137" width="13" height="13" fill="#b73700"/>
<rect x="83" y="137" width="13" height="13" fill="#cc4d00"/>
<rect x="96" y="137" width="14" height="13" fill="#e26200"/>
<rect x="110" y="137" width="13" height="13" fill="#f67700"/>
<rect x="123" y="137" width="13" height="13" fill="#ff8a0b"/>
<rect x="136" y="137" width="13" height="13" fill="#ff9d1e"/>
<rect x="149" y="137" width="14" height="13" fill="#ffaf30"/>
<rect x="163" y="137" width="13" height="13" fill="#ffc040"/>
<rect x="176" y="137" width="13" height="13" fill="#ffce4e"/>
<rect x="189" y="137" width="13" height="13" fill="#ffda5a"/>
<rect x="202" y="137" width="14" height="13" fill="#ffe363"/>
<rect x="216" y="137" width="13" height="13" fill="#ffea6a"/>
<rect x="229" y="137" width="13" height="13" fill="#ffee6e"/>
<rect x="242" y="137" width="13" height="13" fill="#fff071"/>
<rect x="255" y="137" width="14" height="13" fill="#fff172"/>
<rect x="269" y="137" width="13" height="13" fill="#fff171"/>
<rect x="282" y="137" width="13" height="13" fill="#ffef6f"/>
<rect x="295" y="137" width="13" height="13" fill="#ffea6b"/>
<rect x="308" y="137" width="14" height="13" fill="#ffe364"/>
<rect x="322" y="137" width="13" height="13" fill="#ffd859"/>
<rect x="335" y="137" width="13" height="13" fill="#ffca4a"/>
<rect x="348" y="137" width="13" height="13" fill="#ffb838"/>
<rect x="361" y="137" width="14" height="13" fill="#ffa324"/>
<rect x="375" y="137" width="13" height="13" fill="#ff8f0f"/>
<rect x="388" y="137" width="13" height="13" fill="#fa7b00"/>
<rect x="401" y="137" width="13" height="13" fill="#e66700"/>
<rect x="414" y="137" width="14" height="13" fill="#d15200"/>
<rect x="428" y="137" width="13" height="13" fill="#bc3d00"/>
<rect x="441" y="137" width="13" height="13" fill="#a72800"/>
<rect x="454" y="137" width="13" height="13" fill="#941400"/>
<rect x="467" y="137" width="7" height="13" fill="#820200"/>
<rect x="50" y="124" width="7" height="13" fill="#830300"/>
<rect x="57" y="124" width="13" height="13" fill="#961600"/>
<rect x="70" y="124" width="13" height="13" fill="#a92a00"/>
<rect x="83" y="124" width="13" height="13" fill="#bd3e00"/>
<rect x="96" y="124" width="14" height="13" fill="#d15200"/>
<rect x="110" y="124" width="13" height="13" fill="#e56500"/>
<rect x="123" y="124" width="13" height="13" fill="#f77700"/>
<rect x="136" y="124" width="13" height="13" fill="#ff8809"/>
<rect x="149" y="124" width="14" height="13" fill="#ff9919"/>
<rect x="163" y="124" width="13" height="13" fill="#ffa828"/>
<rect x="176" y="124" width="13" height="13" fill="#ffb535"/>
<rect x="189" y="124" width="13" height="13" fill="#ffc040"/>
<rect x="202" y="124" width="14" height="13" fill="#ffc848"/>
<rect x="216" y="124" width="13" height="13" fill="#ffce4e"/>
<rect x="229" y="124" width="13" height="13" fill="#ffd252"/>
<rect x="242" y="124" width="13" height="13" fill="#ffd454"/>
<rect x="255" y="124" width="14" height="13" fill="#ffd455"/>
<rect x="269" y="124" width="13" height="13" fill="#ffd353"/>
<rect x="282" y="124" width="13" height="13" fill="#ffd051"/>
<rect x="295" y="124" width="13" height="13" fill="#ffcb4b"/>
<rect x="308" y="124" width="14" height="13" fill="#ffc343"/>
<rect x="322" y="124" width="13" height="13" fill="#ffb838"/>
<rect x="335" y="124" width="13" height="13" fill="#ffa92a"/>
<rect x="348" y="124" width="13" height="13" fill="#ff991a"/>
<rect x="361" y="124" width="14" height="13" fill="#ff8808"/>
<rect x="375" y="124" width="13" height="13" fill="#f67600"/>
<rect x="388" y="124" width="13" height="13" fill="#e46400"/>
<rect x="401" y="124" width="13" height="13" fill="#d15100"/>
<rect x="414" y="124" width="14" height="13" fill="#be3e00"/>
<rect x="428" y="124" width="13" height="13" fill="#aa2b00"/>
<rect x="441" y="124" width="13" height="13" fill="#981800"/>
<rect x="454" y="124" width="13" height="13" fill="#860700"/>
<rect x="467" y="124" width="7" height="13" fill="#770000"/>
<rect x="50" y="110" width="7" height="14" fill="#780000"/>
<rect x="57" y="110" width="13" height="14" fill="#890a00"/>
<rect x="70" y="110" width="13" height="14" fill="#9b1c00"/>
<rect x="83" y="110" width="13" height="14" fill="#ad2e00"/>
<rect x="96" y="110" width="14" height="14" fill="#c04000"/>
<rect x="110" y="110" width="13" height="14" fill="#d25200"/>
<rect x="123" y="110" width="13" height="14" fill="#e36300"/>
<rect x="136" y="110" width="13" height="14" fill="#f37300"/>
<rect x="149" y="110" width="14" height="14" fill="#ff8202"/>
<rect x="163" y="110" width="13" height="14" fill="#ff8f10"/>
<rect x="176" y="110" width="13" height="14" fill="#ff9b1b"/>
<rect x="189" y="110" width="13" height="14" fill="#ffa525"/>
<rect x="202" y="110" width="14" height="14" fill="#ffac2d"/>
<rect x="216" y="110" width="13" height="14" fill="#ffb232"/>
<rect x="229" y="110" width="13" height="14" fill="#ffb636"/>
<rect x="242" y="110" width="13" height="14" fill="#ffb738"/>
<rect x="255" y="110" width="14" height="14" fill="#ffb737"/>
<rect x="269" y="110" width="13" height="14" fill="#ffb535"/>
<rect x="282" y="110" width="13" height="14" fill="#ffb132"/>
<rect x="295" y="110" width="13" height="14" fill="#ffab2c"/>
<rect x="308" y="110" width="14" height="14" fill="#ffa323"/>
<rect x="322" y="110" width="13" height="14" fill="#ff9818"/>
<rect x="335" y="110" width="13" height="14" fill="#ff8b0c"/>
<rect x="348" y="110" width="13" height="14" fill="#fd7d00"/>
<rect x="361" y="110" width="14" height="14" fill="#ee6e00"/>
<rect x="375" y="110" width="13" height="14" fill="#de5e00"/>
<rect x="388" y="110" width="13" height="14" fill="#cd4e00"/>
<rect x="401" y="110" width="13" height="14" fill="#bc3c00"/>
<rect x="414" y="110" width="14" height="14" fill="#aa2b00"/>
<rect x="428" y="110" width="13" height="14" fill="#991a00"/>
<rect x="441" y="110" width="13" height="14" fill="#890a00"/>
<rect x="454" y="110" width="13" height="14" fill="#7a0000"/>
<rect x="467" y="110" width="7" height="14" fill="#6d0000"/>
<rect x="50" y="97" width="7" height="13" fill="#6e0000"/>
<rect x="57" y="97" width="13" height="13" fill="#7d0000"/>
<rect x="70" y="97" width="13" height="13" fill="#8d0d00"/>
<rect x="83" y="97" width="13" height="13" fill="#9d1e00"/>
<rect x="96" y="97" width="14" height="13" fill="#ae2f00"/>
<rect x="110" y="97" width="13" height="13" fill="#be3f00"/>
<rect x="123" y="97" width="13" height="13" fill="#ce4f00"/>
<rect x="136" y="97" width="13" height="13" fill="#dd5d00"/>
<rect x="149" y="97" width="14" height="13" fill="#ea6b00"/>
<rect x="163" y="97" width="13" height="13" fill="#f77700"/>
<rect x="176" y="97" width="13" height="13" fill="#ff8102"/>
<rect x="189" y="97" width="13" height="13" fill="#ff8a0b"/>
<rect x="202" y="97" width="14" height="13" fill="#ff9112"/>
<rect x="216" y="97" width="13" height="13" fill="#ff9617"/>
<rect x="229" y="97" width="13" height="13" fill="#ff991a"/>
<rect x="242" y="97" width="13" height="13" fill="#ff9a1b"/>
<rect x="255" y="97" width="14" height="13" fill="#ff9a1a"/>
<rect x="269" y="97" width="13" height="13" fill="#ff9718"/>
<rect x="282" y="97" width="13" height="13" fill="#ff9313"/>
<rect x="295" y="97" width="13" height="13" fill="#ff8d0d"/>
<rect x="308" y="97" width="14" height="13" fill="#ff8505"/>
<rect x="322" y="97" width="13" height="13" fill="#fb7b00"/>
<rect x="335" y="97" width="13" height="13" fill="#ef7000"/>
<rect x="348" y="97" width="13" height="13" fill="#e36300"/>
<rect x="361" y="97" width="14" height="13" fill="#d55500"/>
<rect x="375" y="97" width="13" height="13" fill="#c64700"/>
<rect x="388" y="97" width="13" height="13" fill="#b73700"/>
<rect x="401" y="97" width="13" height="13" fill="#a72800"/>
<rect x="414" y="97" width="14" height="13" fill="#981800"/>
<rect x="428" y="97" width="13" height="13" fill="#890a00"/>
<rect x="441" y="97" width="13" height="13" fill="#7c0000"/>
<rect x="454" y="97" width="13" height="13" fill="#6f0000"/>
<rect x="467" y="97" width="7" height="13" fill="#640000"/>
<rect x="50" y="84" width="7" height="13" fill="#630000"/>
<rect x="57" y="84" width="13" height="13" fill="#700000"/>
<rect x="70" y="84" width="13" height="13" fill="#7e0000"/>
<rect x="83" y="84" width="13" height="13" fill="#8d0e00"/>
<rect x="96" y="84" width="14" height="13" fill="#9c1d00"/>
<rect x="110" y="84" width="13" height="13" fill="#ab2b00"/>
<rect x="123" y="84" width="13" height="13" fill="#b93a00"/>
<rect x="136" y="84" width="13" height="13" fill="#c64700"/>
<rect x="149" y="84" width="14" height="13" fill="#d35300"/>
<rect x="163" y="84" width="13" height="13" fill="#de5e00"/>
<rect x="176" y="84" width="13" height="13" fill="#e86800"/>
<rect x="189" y="84" width="13" height="13" fill="#f07000"/>
<rect x="202" y="84" width="14" height="13" fill="#f67600"/>
<rect x="216" y="84" width="13" height="13" fill="#fa7b00"/>
<rect x="229" y="84" width="13" height="13" fill="#fd7d00"/>
<rect x="242" y="84" width="13" height="13" fill="#fe7e00"/>
<rect x="255" y="84" width="14" height="13" fill="#fd7d00"/>
<rect x="269" y="84" width="13" height="13" fill="#fa7b00"/>
<rect x="282" y="84" width="13" height="13" fill="#f67700"/>
<rect x="295" y="84" width="13" height="13" fill="#f07100"/>
<rect x="308" y="84" width="14" height="13" fill="#e86900"/>
<rect x="322" y="84" width="13" height="13" fill="#df6000"/>
<rect x="335" y="84" width="13" height="13" fill="#d55500"/>
<rect x="348" y="84" width="13" height="13" fill="#c94900"/>
<rect x="361" y="84" width="14" height="13" fill="#bc3d00"/>
<rect x="375" y="84" width="13" height="13" fill="#af3000"/>
<rect x="388" y="84" width="13" height="13" fill="#a22200"/>
<rect x="401" y="84" width="13" height="13" fill="#941500"/>
<rect x="414" y="84" width="14" height="13" fill="#870700"/>
<rect x="428" y="84" width="13" height="13" fill="#7b0000"/>
<rect x="441" y="84" width="13" height="13" fill="#6f0000"/>
<rect x="454" y="84" width="13" height="13" fill="#650000"/>
<rect x="467" y="84" width="7" height="13" fill="#5a0000"/>
<rect x="50" y="71" width="7" height="13" fill="#570000"/>
<rect x="57" y="71" width="13" height="13" fill="#640000"/>
<rect x="70" y="71" width="13" height="13" fill="#710000"/>
<rect x="83" y="71" width="13" height="13" fill="#7d0000"/>
<rect x="96" y="71" width="14" height="13" fill="#8a0b00"/>
<rect x="110" y="71" width="13" height="13" fill="#971800"/>
<rect x="123" y="71" width="13" height="13" fill="#a42400"/>
<rect x="136" y="71" width="13" height="13" fill="#b03000"/>
<rect x="149" y="71" width="14" height="13" fill="#bb3c00"/>
<rect x="163" y="71" width="13" height="13" fill="#c54600"/>
<rect x="176" y="71" width="13" height="13" fill="#ce4e00"/>
<rect x="189" y="71" width="13" height="13" fill="#d55500"/>
<rect x="202" y="71" width="14" height="13" fill="#db5b00"/>
<rect x="216" y="71" width="13" height="13" fill="#df5f00"/>
<rect x="229" y="71" width="13" height="13" fill="#e16100"/>
<rect x="242" y="71" width="13" height="13" fill="#e16200"/>
<rect x="255" y="71" width="14" height="13" fill="#e06100"/>
<rect x="269" y="71" width="13" height="13" fill="#de5e00"/>
<rect x="282" y="71" width="13" height="13" fill="#d95a00"/>
<rect x="295" y="71" width="13" height="13" fill="#d45400"/>
<rect x="308" y="71" width="14" height="13" fill="#cd4d00"/>
<rect x="322" y="71" width="13" height="13" fill="#c44500"/>
<rect x="335" y="71" width="13" height="13" fill="#ba3b00"/>
<rect x="348" y="71" width="13" height="13" fill="#b03100"/>
<rect x="361" y="71" width="14" height="13" fill="#a52500"/>
<rect x="375" y="71" width="13" height="13" fill="#991a00"/>
<rect x="388" y="71" width="13" height="13" fill="#8e0e00"/>
<rect x="401" y="71" width="13" height="13" fill="#830300"/>
<rect x="414" y="71" width="14" height="13" fill="#780000"/>
<rect x="428" y="71" width="13" height="13" fill="#6e0000"/>
<rect x="441" y="71" width="13" height="13" fill="#640000"/>
<rect x="454" y="71" width="13" height="13" fill="#5a0000"/>
<rect x="467" y="71" width="7" height="13" fill="#510000"/>
<rect x="50" y="64" width="7" height="7" fill="#4c0000"/>
<rect x="57" y="64" width="13" height="7" fill="#570000"/>
<rect x="70" y="64" width="13" height="7" fill="#630000"/>
<rect x="83" y="64" width="13" height="7" fill="#6e0000"/>
<rect x="96" y="64" width="14" height="7" fill="#7a0000"/>
<rect x="110" y="64" width="13" height="7" fill="#850500"/>
<rect x="123" y="64" width="13" height="7" fill="#901000"/>
<rect x="136" y="64" width="13" height="7" fill="#9a1b00"/>
<rect x="149" y="64" width="14" height="7" fill="#a42400"/>
<rect x="163" y="64" width="13" height="7" fill="#ac2d00"/>
<rect x="176" y="64" width="13" height="7" fill="#b43500"/>
<rect x="189" y="64" width="13" height="7" fill="#ba3b00"/>
<rect x="202" y="64" width="14" height="7" fill="#bf4000"/>
<rect x="216" y="64" width="13" height="7" fill="#c34300"/>
<rect x="229" y="64" width="13" height="7" fill="#c44500"/>
<rect x="242" y="64" width="13" height="7" fill="#c54500"/>
<rect x="255" y="64" width="14" height="7" fill="#c44400"/>
<rect x="269" y="64" width="13" height="7" fill="#c14200"/>
<rect x="282" y="64" width="13" height="7" fill="#bd3e00"/>
<rect x="295" y="64" width="13" height="7" fill="#b83800"/>
<rect x="308" y="64" width="14" height="7" fill="#b13200"/>
<rect x="322" y="64" width="13" height="7" fill="#aa2b00"/>
<rect x="335" y="64" width="13" height="7" fill="#a22200"/>
<rect x="348" y="64" width="13" height="7" fill="#991900"/>
<rect x="361" y="64" width="14" height="7" fill="#8f1000"/>
<rect x="375" y="64" width="13" height="7" fill="#860600"/>
<rect x="388" y="64" width="13" height="7" fill="#7d0000"/>
<rect x="401" y="64" width="13" height="7" fill="#730000"/>
<rect x="414" y="64" width="14" height="7" fill="#6a0000"/>
<rect x="428" y="64" width="13" height="7" fill="#620000"/>
<rect x="441" y="64" width="13" height="7" fill="#590000"/>
<rect x="454" y="64" width="13" height="7" fill="#500000"/>
<rect x="467" y="64" width="7" height="7" fill="#470000"/>
</g>
<g stroke="#fff" fill="none">
<path d="M49.50 64.2v7.3M49.50 487.8v-6.5" stroke-width="1.4"/>
<path d="M76.50 64.2v7.3M76.50 487.8v-6.5" stroke-width="1.4"/>
<path d="M102.50 64.2v7.3M102.50 487.8v-6.5" stroke-width="1.4"/>
<path d="M129.50 64.2v14.3M129.50 487.8v-13.5" stroke-width="2.8"/>
<path d="M155.50 64.2v7.3M155.50 487.8v-6.5" stroke-width="1.4"/>
<path d="M182.50 64.2v7.3M182.50 487.8v-6.5" stroke-width="1.4"/>
<path d="M208.50 64.2v7.3M208.50 487.8v-6.5" stroke-width="1.4"/>
<path d="M235.50 64.2v7.3M235.50 487.8v-6.5" stroke-width="1.4"/>
<path d="M261.50 64.2v14.3M261.50 487.8v-13.5" stroke-width="2.8"/>
<path d="M288.50 64.2v7.3M288.50 487.8v-6.5" stroke-width="1.4"/>
<path d="M314.50 64.2v7.3M314.50 487.8v-6.5" stroke-width="1.4"/>
<path d="M341.50 64.2v7.3M341.50 487.8v-6.5" stroke-width="1.4"/>
<path d="M367.50 64.2v7.3M367.50 487.8v-6.5" stroke-width="1.4"/>
<path d="M394.50 64.2v14.3M394.50 487.8v-13.5" stroke-width="2.8"/>
<path d="M420.50 64.2v7.3M420.50 487.8v-6.5" stroke-width="1.4"/>
<path d="M447.50 64.2v7.3M447.50 487.8v-6.5" stroke-width="1.4"/>
<path d="M473.50 64.2v7.3M473.50 487.8v-6.5" stroke-width="1.4"/>
<path d="M50.5 488.50h7.2M473.7 488.50h-7.2" stroke-width="1.4"/>
<path d="M50.5 461.50h7.2M473.7 461.50h-7.2" stroke-width="1.4"/>
<path d="M50.5 435.50h7.2M473.7 435.50h-7.2" stroke-width="1.4"/>
<path d="M50.5 408.50h14.2M473.7 408.50h-14.2" stroke-width="2.8"/>
<path d="M50.5 382.50h7.2M473.7 382.50h-7.2" stroke-width="1.4"/>
<path d="M50.5 355.50h7.2M473.7 355.50h-7.2" stroke-width="1.4"/>
<path d="M50.5 329.50h7.2M473.7 329.50h-7.2" stroke-width="1.4"/>
<path d="M50.5 302.50h7.2M473.7 302.50h-7.2" stroke-width="1.4"/>
<path d="M50.5 276.50h14.2M473.7 276.50h-14.2" stroke-width="2.8"/>
<path d="M50.5 250.50h7.2M473.7 250.50h-7.2" stroke-width="1.4"/>
<path d="M50.5 223.50h7.2M473.7 223.50h-7.2" stroke-width="1.4"/>
<path d="M50.5 197.50h7.2M473.7 197.50h-7.2" stroke-width="1.4"/>
<path d="M50.5 170.50h7.2M473.7 170.50h-7.2" stroke-width="1.4"/>
<path d="M50.5 144.50h14.2M473.7 144.50h-14.2" stroke-width="2.8"/>
<path d="M50.5 117.50h7.2M473.7 117.50h-7.2" stroke-width="1.4"/>
<path d="M50.5 91.50h7.2M473.7 91.50h-7.2" stroke-width="1.4"/>
<path d="M50.5 64.50h7.2M473.7 64.50h-7.2" stroke-width="1.4"/>
</g>
<text x="129.50" y="502" font-size="13.3" text-anchor="middle">1901</text>
<text x="261.50" y="502" font-size="13.3" text-anchor="middle">1911</text>
<text x="394.50" y="502" font-size="13.3" text-anchor="middle">1921</text>
<text transform="translate(43.0,410.00) rotate(-90)" font-size="13.3" text-anchor="middle">3803</text>
<text transform="translate(43.0,278.00) rotate(-90)" font-size="13.3" text-anchor="middle">3813</text>
<text transform="translate(43.0,146.00) rotate(-90)" font-size="13.3" text-anchor="middle">3823</text>
<text x="261.1" y="97.7" font-size="16.67" text-anchor="middle" style="fill:#00ffff">Overscan-subtracted/trimmed image</text>
<path d="M410.5 450.5H449.5" stroke="#00ffff" stroke-width="3" stroke-linecap="square"/>
<text x="415.1" y="468" font-size="13.89" style="fill:#00ffff">0.5<tspan font-style="italic" font-size="16" dx="0.6" dy="1.8">″</tspan></text>
<defs><linearGradient id="cb" x1="0" x2="1" y1="0" y2="0"><stop offset="0" stop-color="#000"/><stop offset="0.25" stop-color="#800000"/><stop offset="0.5" stop-color="#ff8000"/><stop offset="0.75" stop-color="#ffff80"/><stop offset="1" stop-color="#fff"/></linearGradient></defs>
<rect x="50.00" y="513.00" width="423.00" height="16.90" fill="url(#cb)" stroke="#000" stroke-width="2"/>
<g stroke="#000">
<path d="M57.52 529.90v-6" stroke-width="1.4"/>
<path d="M69.13 529.90v-6" stroke-width="1.4"/>
<path d="M79.18 529.90v-6" stroke-width="1.4"/>
<path d="M88.05 529.90v-6" stroke-width="1.4"/>
<path d="M95.99 529.90v-11" stroke-width="1.5"/>
<path d="M148.19 529.90v-6" stroke-width="1.4"/>
<path d="M178.73 529.90v-6" stroke-width="1.4"/>
<path d="M200.39 529.90v-6" stroke-width="1.4"/>
<path d="M217.20 529.90v-6" stroke-width="1.4"/>
<path d="M230.93 529.90v-6" stroke-width="1.4"/>
<path d="M242.54 529.90v-6" stroke-width="1.4"/>
<path d="M252.60 529.90v-6" stroke-width="1.4"/>
<path d="M261.47 529.90v-6" stroke-width="1.4"/>
<path d="M269.40 529.90v-11" stroke-width="1.5"/>
<path d="M321.61 529.90v-6" stroke-width="1.4"/>
<path d="M352.14 529.90v-6" stroke-width="1.4"/>
<path d="M373.81 529.90v-6" stroke-width="1.4"/>
<path d="M390.61 529.90v-6" stroke-width="1.4"/>
<path d="M404.34 529.90v-6" stroke-width="1.4"/>
<path d="M415.95 529.90v-6" stroke-width="1.4"/>
<path d="M426.01 529.90v-6" stroke-width="1.4"/>
<path d="M434.88 529.90v-6" stroke-width="1.4"/>
<path d="M442.82 529.90v-11" stroke-width="1.5"/>
</g>
<text x="96.19" y="546.7" font-size="15.28" text-anchor="middle">100</text>
<text x="269.60" y="546.7" font-size="15.28" text-anchor="middle">1000</text>
<text x="443.02" y="546.7" font-size="15.28" text-anchor="middle">10000</text>
<text x="261.5" y="573" font-size="15.28" text-anchor="middle">Count (ADU)</text>
<clipPath id="rc"><rect x="537.10" y="64.00" width="423.00" height="423.90"/></clipPath>
<g clip-path="url(#rc)" fill="#228b22">
<circle cx="570.5" cy="135.5" r="3.7"/>
<circle cx="579.5" cy="131.2" r="3.7"/>
<circle cx="583.2" cy="131.8" r="3.7"/>
<circle cx="589.4" cy="128.2" r="3.7"/>
<circle cx="601.2" cy="134.5" r="3.7"/>
<circle cx="606.8" cy="133.3" r="3.7"/>
<circle cx="611.4" cy="131.2" r="3.7"/>
<circle cx="618.5" cy="127.3" r="3.7"/>
<circle cx="616.4" cy="115.3" r="3.7"/>
<circle cx="615.5" cy="139.3" r="3.7"/>
<circle cx="616.5" cy="142.7" r="3.7"/>
<circle cx="602.7" cy="147.2" r="3.7"/>
<circle cx="598.2" cy="150.5" r="3.7"/>
<circle cx="624.5" cy="145.3" r="3.7"/>
<circle cx="629.3" cy="146.5" r="3.7"/>
<circle cx="635.4" cy="116.2" r="3.7"/>
<circle cx="646.2" cy="114.2" r="3.7"/>
<circle cx="633.5" cy="125.2" r="3.7"/>
<circle cx="637.2" cy="131.2" r="3.7"/>
<circle cx="643.2" cy="128.8" r="3.7"/>
<circle cx="643.2" cy="133.3" r="3.7"/>
<circle cx="660.5" cy="117.2" r="3.7"/>
<circle cx="666.5" cy="125.2" r="3.7"/>
<circle cx="668.3" cy="129.2" r="3.7"/>
<circle cx="661.5" cy="137.2" r="3.7"/>
<circle cx="650.0" cy="144.2" r="3.7"/>
<circle cx="652.7" cy="146.5" r="3.7"/>
<circle cx="652.2" cy="150.7" r="3.7"/>
<circle cx="647.4" cy="157.3" r="3.7"/>
<circle cx="641.4" cy="161.2" r="3.7"/>
<circle cx="630.2" cy="163.0" r="3.7"/>
<circle cx="632.4" cy="167.5" r="3.7"/>
<circle cx="647.4" cy="173.5" r="3.7"/>
<circle cx="657.5" cy="160.3" r="3.7"/>
<circle cx="662.4" cy="161.5" r="3.7"/>
<circle cx="681.2" cy="137.0" r="3.7"/>
<circle cx="674.0" cy="142.4" r="3.7"/>
<circle cx="677.7" cy="143.5" r="3.7"/>
<circle cx="676.2" cy="147.2" r="3.7"/>
<circle cx="680.7" cy="146.5" r="3.7"/>
<circle cx="689.4" cy="138.2" r="3.7"/>
<circle cx="698.0" cy="144.2" r="3.7"/>
<circle cx="701.0" cy="143.2" r="3.7"/>
<circle cx="675.5" cy="166.0" r="3.7"/>
<circle cx="687.2" cy="166.0" r="3.7"/>
<circle cx="670.7" cy="173.2" r="3.7"/>
<circle cx="682.2" cy="170.2" r="3.7"/>
<circle cx="681.2" cy="176.5" r="3.7"/>
<circle cx="691.2" cy="176.2" r="3.7"/>
<circle cx="698.3" cy="173.2" r="3.7"/>
<circle cx="704.0" cy="161.5" r="3.7"/>
<circle cx="707.7" cy="157.7" r="3.7"/>
<circle cx="680.0" cy="185.5" r="3.7"/>
<circle cx="687.5" cy="185.2" r="3.7"/>
<circle cx="707.7" cy="178.0" r="3.7"/>
<circle cx="663.5" cy="189.2" r="3.7"/>
<circle cx="671.0" cy="189.2" r="3.7"/>
<circle cx="696.5" cy="187.7" r="3.7"/>
<circle cx="708.5" cy="187.7" r="3.7"/>
<circle cx="710.7" cy="179.2" r="3.7"/>
<circle cx="719.3" cy="181.3" r="3.7"/>
<circle cx="733.5" cy="169.0" r="3.7"/>
<circle cx="731.4" cy="175.0" r="3.7"/>
<circle cx="740.4" cy="185.2" r="3.7"/>
<circle cx="716.4" cy="192.2" r="3.7"/>
<circle cx="724.5" cy="189.2" r="3.7"/>
<circle cx="665.5" cy="190.6" r="3.7"/>
<circle cx="675.5" cy="192.2" r="3.7"/>
<circle cx="687.5" cy="198.2" r="3.7"/>
<circle cx="693.5" cy="197.0" r="3.7"/>
<circle cx="701.4" cy="200.2" r="3.7"/>
<circle cx="728.4" cy="195.2" r="3.7"/>
<circle cx="733.0" cy="197.8" r="3.7"/>
<circle cx="735.8" cy="199.3" r="3.7"/>
<circle cx="708.5" cy="206.2" r="3.7"/>
<circle cx="714.5" cy="203.8" r="3.7"/>
<circle cx="716.7" cy="206.5" r="3.7"/>
<circle cx="721.7" cy="211.0" r="3.7"/>
<circle cx="705.5" cy="214.0" r="3.7"/>
<circle cx="713.0" cy="216.2" r="3.7"/>
<circle cx="712.2" cy="220.0" r="3.7"/>
<circle cx="718.2" cy="217.7" r="3.7"/>
<circle cx="725.0" cy="217.0" r="3.7"/>
<circle cx="696.5" cy="218.8" r="3.7"/>
<circle cx="695.0" cy="223.3" r="3.7"/>
<circle cx="701.4" cy="224.5" r="3.7"/>
<circle cx="718.2" cy="225.5" r="3.7"/>
<circle cx="753.5" cy="212.2" r="3.7"/>
<circle cx="765.0" cy="220.7" r="3.7"/>
<circle cx="764.3" cy="223.0" r="3.7"/>
<circle cx="771.5" cy="225.2" r="3.7"/>
<circle cx="714.5" cy="237.2" r="3.7"/>
<circle cx="734.4" cy="227.0" r="3.7"/>
<circle cx="743.0" cy="226.7" r="3.7"/>
<circle cx="745.2" cy="229.7" r="3.7"/>
<circle cx="752.7" cy="230.5" r="3.7"/>
<circle cx="749.7" cy="233.5" r="3.7"/>
<circle cx="731.0" cy="233.8" r="3.7"/>
<circle cx="734.5" cy="234.2" r="3.7"/>
<circle cx="740.0" cy="232.0" r="3.7"/>
<circle cx="741.5" cy="237.2" r="3.7"/>
<circle cx="745.2" cy="241.7" r="3.7"/>
<circle cx="752.7" cy="243.7" r="3.7"/>
<circle cx="767.4" cy="241.0" r="3.7"/>
<circle cx="731.0" cy="247.7" r="3.7"/>
<circle cx="736.2" cy="247.0" r="3.7"/>
<circle cx="746.0" cy="247.7" r="3.7"/>
<circle cx="755.0" cy="248.5" r="3.7"/>
<circle cx="762.5" cy="247.7" r="3.7"/>
<circle cx="770.0" cy="249.7" r="3.7"/>
<circle cx="782.5" cy="253.2" r="3.7"/>
<circle cx="747.2" cy="253.2" r="3.7"/>
<circle cx="762.2" cy="256.2" r="3.7"/>
<circle cx="728.5" cy="257.3" r="3.7"/>
<circle cx="733.3" cy="262.2" r="3.7"/>
<circle cx="745.7" cy="259.2" r="3.7"/>
<circle cx="751.7" cy="262.2" r="3.7"/>
<circle cx="750.2" cy="265.7" r="3.7"/>
<circle cx="760.0" cy="266.7" r="3.7"/>
<circle cx="765.2" cy="264.2" r="3.7"/>
<circle cx="769.0" cy="264.5" r="3.7"/>
<circle cx="766.7" cy="268.2" r="3.7"/>
<circle cx="775.0" cy="270.8" r="3.7"/>
<circle cx="778.0" cy="275.0" r="3.7"/>
<circle cx="797.5" cy="266.7" r="3.7"/>
<circle cx="796.3" cy="271.2" r="3.7"/>
<circle cx="744.5" cy="272.3" r="3.7"/>
<circle cx="754.5" cy="275.3" r="3.7"/>
<circle cx="760.7" cy="275.0" r="3.7"/>
<circle cx="764.5" cy="276.5" r="3.7"/>
<circle cx="803.5" cy="280.2" r="3.7"/>
<circle cx="761.2" cy="284.0" r="3.7"/>
<circle cx="759.7" cy="290.7" r="3.7"/>
<circle cx="767.5" cy="287.0" r="3.7"/>
<circle cx="775.0" cy="283.2" r="3.7"/>
<circle cx="774.2" cy="289.2" r="3.7"/>
<circle cx="787.0" cy="284.0" r="3.7"/>
<circle cx="783.2" cy="288.5" r="3.7"/>
<circle cx="778.7" cy="292.2" r="3.7"/>
<circle cx="790.0" cy="292.2" r="3.7"/>
<circle cx="798.2" cy="289.2" r="3.7"/>
<circle cx="765.2" cy="301.2" r="3.7"/>
<circle cx="778.0" cy="297.5" r="3.7"/>
<circle cx="791.5" cy="298.2" r="3.7"/>
<circle cx="778.7" cy="304.2" r="3.7"/>
<circle cx="784.0" cy="306.5" r="3.7"/>
<circle cx="790.0" cy="304.2" r="3.7"/>
<circle cx="797.5" cy="304.2" r="3.7"/>
<circle cx="792.2" cy="310.2" r="3.7"/>
<circle cx="813.2" cy="301.2" r="3.7"/>
<circle cx="775.0" cy="315.5" r="3.7"/>
<circle cx="778.7" cy="317.0" r="3.7"/>
<circle cx="798.2" cy="314.0" r="3.7"/>
<circle cx="791.5" cy="317.0" r="3.7"/>
<circle cx="808.0" cy="311.0" r="3.7"/>
<circle cx="814.0" cy="315.5" r="3.7"/>
<circle cx="830.5" cy="317.7" r="3.7"/>
<circle cx="805.0" cy="318.5" r="3.7"/>
<circle cx="790.0" cy="318.0" r="3.7"/>
<circle cx="795.2" cy="320.2" r="3.7"/>
<circle cx="799.7" cy="322.5" r="3.7"/>
<circle cx="806.5" cy="319.5" r="3.7"/>
<circle cx="811.0" cy="318.0" r="3.7"/>
<circle cx="829.0" cy="323.2" r="3.7"/>
<circle cx="835.7" cy="327.3" r="3.7"/>
<circle cx="787.5" cy="330.0" r="3.7"/>
<circle cx="793.0" cy="327.7" r="3.7"/>
<circle cx="804.2" cy="330.0" r="3.7"/>
<circle cx="809.5" cy="327.7" r="3.7"/>
<circle cx="814.7" cy="325.5" r="3.7"/>
<circle cx="808.0" cy="333.7" r="3.7"/>
<circle cx="813.2" cy="332.2" r="3.7"/>
<circle cx="820.0" cy="332.2" r="3.7"/>
<circle cx="826.0" cy="330.7" r="3.7"/>
<circle cx="832.0" cy="336.0" r="3.7"/>
<circle cx="826.7" cy="337.5" r="3.7"/>
<circle cx="797.5" cy="339.7" r="3.7"/>
<circle cx="802.0" cy="341.2" r="3.7"/>
<circle cx="812.5" cy="340.5" r="3.7"/>
<circle cx="818.5" cy="339.7" r="3.7"/>
<circle cx="823.7" cy="342.7" r="3.7"/>
<circle cx="814.7" cy="345.0" r="3.7"/>
<circle cx="820.0" cy="346.5" r="3.7"/>
<circle cx="842.5" cy="344.2" r="3.7"/>
<circle cx="838.0" cy="348.0" r="3.7"/>
<circle cx="805.0" cy="348.7" r="3.7"/>
<circle cx="804.2" cy="352.5" r="3.7"/>
<circle cx="821.5" cy="351.7" r="3.7"/>
<circle cx="826.0" cy="353.2" r="3.7"/>
<circle cx="832.0" cy="353.2" r="3.7"/>
<circle cx="826.0" cy="358.5" r="3.7"/>
<circle cx="835.0" cy="357.0" r="3.7"/>
<circle cx="839.5" cy="356.2" r="3.7"/>
<circle cx="817.3" cy="363.0" r="3.7"/>
<circle cx="854.5" cy="357.7" r="3.7"/>
<circle cx="833.5" cy="362.2" r="3.7"/>
<circle cx="841.0" cy="361.5" r="3.7"/>
<circle cx="847.0" cy="363.0" r="3.7"/>
<circle cx="856.0" cy="362.2" r="3.7"/>
<circle cx="863.5" cy="363.7" r="3.7"/>
<circle cx="826.0" cy="368.2" r="3.7"/>
<circle cx="825.2" cy="372.0" r="3.7"/>
<circle cx="833.5" cy="368.2" r="3.7"/>
<circle cx="839.5" cy="367.5" r="3.7"/>
<circle cx="844.0" cy="370.5" r="3.7"/>
<circle cx="850.0" cy="367.5" r="3.7"/>
<circle cx="856.0" cy="369.7" r="3.7"/>
<circle cx="865.0" cy="368.2" r="3.7"/>
<circle cx="868.0" cy="372.0" r="3.7"/>
<circle cx="871.7" cy="373.5" r="3.7"/>
<circle cx="832.0" cy="378.7" r="3.7"/>
<circle cx="836.5" cy="378.7" r="3.7"/>
<circle cx="845.5" cy="375.0" r="3.7"/>
<circle cx="850.0" cy="378.0" r="3.7"/>
<circle cx="847.0" cy="381.0" r="3.7"/>
<circle cx="856.0" cy="378.0" r="3.7"/>
<circle cx="863.5" cy="376.5" r="3.7"/>
<circle cx="859.0" cy="384.0" r="3.7"/>
<circle cx="865.0" cy="382.5" r="3.7"/>
<circle cx="871.0" cy="381.7" r="3.7"/>
<circle cx="880.0" cy="378.0" r="3.7"/>
<circle cx="877.0" cy="382.5" r="3.7"/>
<circle cx="887.5" cy="383.2" r="3.7"/>
<circle cx="883.0" cy="387.0" r="3.7"/>
<circle cx="850.0" cy="388.5" r="3.7"/>
<circle cx="856.0" cy="389.2" r="3.7"/>
<circle cx="865.0" cy="388.5" r="3.7"/>
<circle cx="874.0" cy="388.5" r="3.7"/>
<circle cx="781.7" cy="294.5" r="3.7"/>
<circle cx="790.0" cy="296.0" r="3.7"/>
<circle cx="780.2" cy="300.5" r="3.7"/>
<circle cx="790.7" cy="302.0" r="3.7"/>
<circle cx="799.0" cy="316.5" r="3.7"/>
<circle cx="803.5" cy="324.7" r="3.7"/>
<circle cx="810.2" cy="322.5" r="3.7"/>
<circle cx="805.0" cy="336.0" r="3.7"/>
<circle cx="811.7" cy="337.5" r="3.7"/>
<circle cx="817.7" cy="336.0" r="3.7"/>
<circle cx="820.0" cy="342.7" r="3.7"/>
<circle cx="825.2" cy="349.5" r="3.7"/>
<circle cx="830.5" cy="349.5" r="3.7"/>
<circle cx="817.7" cy="345.0" r="3.7"/>
<circle cx="829.0" cy="345.0" r="3.7"/>
<circle cx="829.7" cy="359.2" r="3.7"/>
<circle cx="838.0" cy="360.0" r="3.7"/>
<circle cx="835.0" cy="366.0" r="3.7"/>
<circle cx="841.0" cy="372.0" r="3.7"/>
<circle cx="854.5" cy="357.7" r="3.7"/>
<circle cx="863.5" cy="363.7" r="3.7"/>
<circle cx="871.7" cy="373.5" r="3.7"/>
<circle cx="880.0" cy="378.0" r="3.7"/>
<circle cx="887.5" cy="383.2" r="3.7"/>
<circle cx="901.7" cy="394.8" r="3.7"/>
<circle cx="915.2" cy="402.0" r="3.7"/>
<circle cx="925.0" cy="408.3" r="3.7"/>
<circle cx="932.5" cy="412.5" r="3.7"/>
<circle cx="944.5" cy="418.5" r="3.7"/>
<circle cx="950.5" cy="420.0" r="3.7"/>
<circle cx="960.0" cy="427.0" r="3.7"/>
<circle cx="825.2" cy="371.2" r="3.7"/>
<circle cx="832.0" cy="379.5" r="3.7"/>
<circle cx="837.2" cy="379.5" r="3.7"/>
<circle cx="847.7" cy="390.7" r="3.7"/>
<circle cx="850.7" cy="395.2" r="3.7"/>
<circle cx="860.2" cy="401.2" r="3.7"/>
<circle cx="871.7" cy="408.7" r="3.7"/>
<circle cx="877.0" cy="412.5" r="3.7"/>
<circle cx="890.5" cy="418.5" r="3.7"/>
<circle cx="895.0" cy="425.2" r="3.7"/>
<circle cx="905.5" cy="428.2" r="3.7"/>
<circle cx="918.2" cy="434.2" r="3.7"/>
<circle cx="923.5" cy="437.2" r="3.7"/>
<circle cx="935.5" cy="441.7" r="3.7"/>
<circle cx="942.2" cy="444.7" r="3.7"/>
<circle cx="950.5" cy="447.7" r="3.7"/>
<circle cx="960.0" cy="446.0" r="3.7"/>
<circle cx="966.0" cy="448.0" r="3.7"/>
<circle cx="902.7" cy="399.4" r="3.7"/>
<circle cx="910.1" cy="417.1" r="3.7"/>
<circle cx="957.8" cy="437.8" r="3.7"/>
<circle cx="915.7" cy="425.1" r="3.7"/>
<circle cx="894.7" cy="399.2" r="3.7"/>
<circle cx="904.5" cy="405.2" r="3.7"/>
<circle cx="935.1" cy="436.7" r="3.7"/>
<circle cx="925.6" cy="429.6" r="3.7"/>
<circle cx="932.5" cy="425.3" r="3.7"/>
<circle cx="920.8" cy="422.2" r="3.7"/>
<circle cx="863.4" cy="392.6" r="3.7"/>
<circle cx="891.1" cy="415.8" r="3.7"/>
<circle cx="903.9" cy="407.3" r="3.7"/>
<circle cx="941.5" cy="432.5" r="3.7"/>
<circle cx="943.5" cy="432.6" r="3.7"/>
<circle cx="892.8" cy="390.6" r="3.7"/>
<circle cx="946.2" cy="423.6" r="3.7"/>
<circle cx="922.6" cy="417.1" r="3.7"/>
<circle cx="950.0" cy="422.3" r="3.7"/>
<circle cx="882.3" cy="388.4" r="3.7"/>
<circle cx="944.7" cy="425.2" r="3.7"/>
<circle cx="854.1" cy="362.5" r="3.7"/>
<circle cx="863.9" cy="375.5" r="3.7"/>
<circle cx="922.8" cy="424.7" r="3.7"/>
<circle cx="900.3" cy="397.2" r="3.7"/>
<circle cx="937.0" cy="438.1" r="3.7"/>
<circle cx="946.9" cy="434.4" r="3.7"/>
<circle cx="956.9" cy="428.8" r="3.7"/>
<circle cx="959.3" cy="438.6" r="3.7"/>
<circle cx="928.1" cy="411.9" r="3.7"/>
<circle cx="963.7" cy="430.0" r="3.7"/>
<circle cx="886.6" cy="409.9" r="3.7"/>
<circle cx="905.6" cy="411.8" r="3.7"/>
<circle cx="925.0" cy="421.6" r="3.7"/>
<circle cx="919.5" cy="411.5" r="3.7"/>
<circle cx="948.9" cy="433.2" r="3.7"/>
<circle cx="938.9" cy="420.7" r="3.7"/>
<circle cx="916.8" cy="412.3" r="3.7"/>
<circle cx="890.3" cy="408.9" r="3.7"/>
<circle cx="952.0" cy="439.2" r="3.7"/>
<circle cx="853.5" cy="391.7" r="3.7"/>
<circle cx="954.5" cy="435.9" r="3.7"/>
<circle cx="913.6" cy="420.2" r="3.7"/>
<circle cx="912.9" cy="419.8" r="3.7"/>
<circle cx="958.5" cy="432.2" r="3.7"/>
<circle cx="953.6" cy="441.6" r="3.7"/>
<circle cx="951.2" cy="443.3" r="3.7"/>
<circle cx="908.4" cy="419.4" r="3.7"/>
<circle cx="894.9" cy="412.5" r="3.7"/>
<circle cx="887.6" cy="392.0" r="3.7"/>
<circle cx="868.1" cy="376.3" r="3.7"/>
<circle cx="956.0" cy="444.1" r="3.7"/>
<circle cx="943.1" cy="429.7" r="3.7"/>
<circle cx="944.7" cy="431.9" r="3.7"/>
<circle cx="898.0" cy="421.1" r="3.7"/>
<circle cx="906.7" cy="406.6" r="3.7"/>
<circle cx="925.9" cy="424.5" r="3.7"/>
<circle cx="890.9" cy="390.4" r="3.7"/>
<circle cx="924.6" cy="431.7" r="3.7"/>
<circle cx="915.0" cy="420.9" r="3.7"/>
<circle cx="908.2" cy="411.8" r="3.7"/>
<circle cx="953.4" cy="438.4" r="3.7"/>
<circle cx="944.1" cy="424.3" r="3.7"/>
<circle cx="928.1" cy="413.2" r="3.7"/>
<circle cx="959.1" cy="438.2" r="3.7"/>
<circle cx="905.1" cy="425.3" r="3.7"/>
<circle cx="955.0" cy="441.7" r="3.7"/>
<circle cx="958.3" cy="433.6" r="3.7"/>
<circle cx="926.9" cy="428.6" r="3.7"/>
<circle cx="950.5" cy="422.0" r="3.7"/>
<circle cx="913.2" cy="409.1" r="3.7"/>
<circle cx="946.9" cy="445.5" r="3.7"/>
<circle cx="897.5" cy="404.4" r="3.7"/>
<circle cx="932.8" cy="426.9" r="3.7"/>
<circle cx="918.2" cy="428.1" r="3.7"/>
<circle cx="935.7" cy="426.4" r="3.7"/>
<circle cx="890.3" cy="411.2" r="3.7"/>
<circle cx="951.2" cy="438.6" r="3.7"/>
<circle cx="850.7" cy="379.7" r="3.7"/>
<circle cx="958.0" cy="430.9" r="3.7"/>
<circle cx="888.5" cy="397.7" r="3.7"/>
<circle cx="957.3" cy="445.1" r="3.7"/>
<circle cx="912.7" cy="426.8" r="3.7"/>
<circle cx="933.2" cy="429.3" r="3.7"/>
<circle cx="955.5" cy="440.4" r="3.7"/>
<circle cx="862.4" cy="384.4" r="3.7"/>
<circle cx="873.8" cy="392.2" r="3.7"/>
<circle cx="898.7" cy="408.6" r="3.7"/>
<circle cx="950.3" cy="428.6" r="3.7"/>
<circle cx="951.5" cy="429.6" r="3.7"/>
<circle cx="871.9" cy="389.7" r="3.7"/>
<circle cx="907.4" cy="413.5" r="3.7"/>
<circle cx="910.9" cy="411.4" r="3.7"/>
<circle cx="943.6" cy="426.3" r="3.7"/>
<circle cx="959.9" cy="434.6" r="3.7"/>
<circle cx="947.3" cy="424.6" r="3.7"/>
<circle cx="926.9" cy="413.6" r="3.7"/>
<circle cx="865.0" cy="387.0" r="3.7"/>
<circle cx="944.5" cy="425.7" r="3.7"/>
<circle cx="949.8" cy="430.3" r="3.7"/>
<circle cx="943.9" cy="425.6" r="3.7"/>
<circle cx="953.0" cy="424.3" r="3.7"/>
<circle cx="918.4" cy="411.0" r="3.7"/>
<circle cx="861.4" cy="395.2" r="3.7"/>
<circle cx="939.2" cy="422.5" r="3.7"/>
<circle cx="925.1" cy="415.3" r="3.7"/>
<circle cx="917.1" cy="423.5" r="3.7"/>
<circle cx="938.1" cy="434.0" r="3.7"/>
<circle cx="890.5" cy="400.3" r="3.7"/>
<circle cx="896.6" cy="422.7" r="3.7"/>
<circle cx="925.1" cy="422.1" r="3.7"/>
<circle cx="947.5" cy="432.0" r="3.7"/>
<circle cx="936.6" cy="419.2" r="3.7"/>
<circle cx="889.1" cy="412.1" r="3.7"/>
<circle cx="964.8" cy="442.2" r="3.7"/>
<circle cx="912.2" cy="414.3" r="3.7"/>
<circle cx="944.7" cy="430.6" r="3.7"/>
<circle cx="880.4" cy="397.1" r="3.7"/>
<circle cx="918.4" cy="413.5" r="3.7"/>
<circle cx="893.1" cy="402.7" r="3.7"/>
<circle cx="951.9" cy="440.5" r="3.7"/>
<circle cx="952.9" cy="433.1" r="3.7"/>
<circle cx="902.3" cy="410.9" r="3.7"/>
<circle cx="925.8" cy="411.8" r="3.7"/>
<circle cx="952.6" cy="439.6" r="3.7"/>
<circle cx="957.8" cy="437.9" r="3.7"/>
<circle cx="940.5" cy="427.5" r="3.7"/>
<circle cx="854.3" cy="378.8" r="3.7"/>
<circle cx="863.0" cy="398.4" r="3.7"/>
<circle cx="947.8" cy="440.5" r="3.7"/>
<circle cx="951.5" cy="439.2" r="3.7"/>
<circle cx="880.5" cy="405.4" r="3.7"/>
<circle cx="963.2" cy="433.3" r="3.7"/>
<circle cx="912.0" cy="410.9" r="3.7"/>
<circle cx="914.2" cy="409.8" r="3.7"/>
<circle cx="926.7" cy="430.9" r="3.7"/>
<circle cx="923.0" cy="414.8" r="3.7"/>
<circle cx="915.0" cy="420.4" r="3.7"/>
<circle cx="904.5" cy="419.8" r="3.7"/>
<circle cx="905.9" cy="422.8" r="3.7"/>
<circle cx="957.0" cy="437.7" r="3.7"/>
<circle cx="945.4" cy="424.5" r="3.7"/>
<circle cx="870.9" cy="385.5" r="3.7"/>
<circle cx="941.5" cy="421.7" r="3.7"/>
<circle cx="886.7" cy="385.0" r="3.7"/>
<circle cx="943.4" cy="425.5" r="3.7"/>
<circle cx="902.4" cy="420.8" r="3.7"/>
<circle cx="933.0" cy="417.8" r="3.7"/>
<circle cx="956.6" cy="444.5" r="3.7"/>
<circle cx="906.2" cy="425.9" r="3.7"/>
<circle cx="900.0" cy="419.7" r="3.7"/>
<circle cx="954.0" cy="433.0" r="3.7"/>
<circle cx="900.7" cy="402.3" r="3.7"/>
<circle cx="935.4" cy="428.1" r="3.7"/>
<circle cx="937.3" cy="436.2" r="3.7"/>
<circle cx="954.0" cy="430.0" r="3.7"/>
<circle cx="961.7" cy="434.8" r="3.7"/>
<circle cx="895.8" cy="398.0" r="3.7"/>
<circle cx="910.4" cy="408.6" r="3.7"/>
<circle cx="953.2" cy="444.5" r="3.7"/>
<circle cx="888.7" cy="405.3" r="3.7"/>
<circle cx="922.1" cy="429.0" r="3.7"/>
<circle cx="862.9" cy="387.8" r="3.7"/>
<circle cx="956.2" cy="441.0" r="3.7"/>
<circle cx="871.8" cy="396.9" r="3.7"/>
<circle cx="917.4" cy="405.5" r="3.7"/>
<circle cx="932.2" cy="419.1" r="3.7"/>
<circle cx="941.0" cy="422.9" r="3.7"/>
<circle cx="900.1" cy="410.6" r="3.7"/>
<circle cx="887.0" cy="391.7" r="3.7"/>
<circle cx="949.9" cy="420.7" r="3.7"/>
<circle cx="890.0" cy="407.6" r="3.7"/>
<circle cx="962.2" cy="439.9" r="3.7"/>
<circle cx="846.0" cy="371.6" r="3.7"/>
<circle cx="898.4" cy="398.6" r="3.7"/>
<circle cx="938.9" cy="428.9" r="3.7"/>
<circle cx="878.4" cy="411.9" r="3.7"/>
<circle cx="874.7" cy="388.3" r="3.7"/>
<circle cx="906.8" cy="408.3" r="3.7"/>
<circle cx="939.3" cy="418.6" r="3.7"/>
<circle cx="929.9" cy="434.5" r="3.7"/>
</g>
<g stroke="#000" fill="none">
<rect x="537.10" y="64.00" width="423.00" height="423.90" stroke-width="2.1"/>
<path d="M556.50 64.00v14.3M556.50 487.90v-13.5" stroke-width="1.3"/>
<path d="M604.62 64.00v7.4M604.62 487.90v-6.6" stroke-width="1.3"/>
<path d="M652.75 64.00v14.3M652.75 487.90v-13.5" stroke-width="1.3"/>
<path d="M700.88 64.00v7.4M700.88 487.90v-6.6" stroke-width="1.3"/>
<path d="M749.00 64.00v14.3M749.00 487.90v-13.5" stroke-width="1.3"/>
<path d="M797.12 64.00v7.4M797.12 487.90v-6.6" stroke-width="1.3"/>
<path d="M845.25 64.00v14.3M845.25 487.90v-13.5" stroke-width="1.3"/>
<path d="M893.38 64.00v7.4M893.38 487.90v-6.6" stroke-width="1.3"/>
<path d="M941.50 64.00v14.3M941.50 487.90v-13.5" stroke-width="1.3"/>
<path d="M537.10 468.30h14.4M960.10 468.30h-14.4" stroke-width="1.3"/>
<path d="M537.10 404.30h7.2M960.10 404.30h-7.2" stroke-width="1.3"/>
<path d="M537.10 340.30h14.4M960.10 340.30h-14.4" stroke-width="1.3"/>
<path d="M537.10 276.30h7.2M960.10 276.30h-7.2" stroke-width="1.3"/>
<path d="M537.10 212.30h14.4M960.10 212.30h-14.4" stroke-width="1.3"/>
<path d="M537.10 148.30h7.2M960.10 148.30h-7.2" stroke-width="1.3"/>
<path d="M537.10 84.30h7.2M960.10 84.30h-7.2" stroke-width="1.3"/>
</g>
<text x="556.20" y="502.6" font-size="13.3" text-anchor="middle">0.0</text>
<text x="652.45" y="502.6" font-size="13.3" text-anchor="middle">0.5</text>
<text x="748.70" y="502.6" font-size="13.3" text-anchor="middle">1.0</text>
<text x="844.95" y="502.6" font-size="13.3" text-anchor="middle">1.5</text>
<text x="941.20" y="502.6" font-size="13.3" text-anchor="middle">2.0</text>
<text transform="translate(531.8,469.90) rotate(-90)" font-size="13.5" text-anchor="middle">0</text>
<text transform="translate(531.8,341.90) rotate(-90)" font-size="13.5" text-anchor="middle">5000</text>
<text transform="translate(531.8,213.90) rotate(-90)" font-size="13.5" text-anchor="middle">10000</text>
<text transform="translate(531.8,85.90) rotate(-90)" font-size="13.5" text-anchor="middle">15000</text>
<text x="940" y="97" font-size="16.67" text-anchor="end">Overscan subtracted</text>
<text x="747.5" y="539" font-size="16.67" text-anchor="middle">Distance from barycenter (arcsec)</text>
<text x="990" y="590" font-size="8.4" text-anchor="end">Copyright © Subaru Telescope, NAOJ.</text>
</svg></body></html>
